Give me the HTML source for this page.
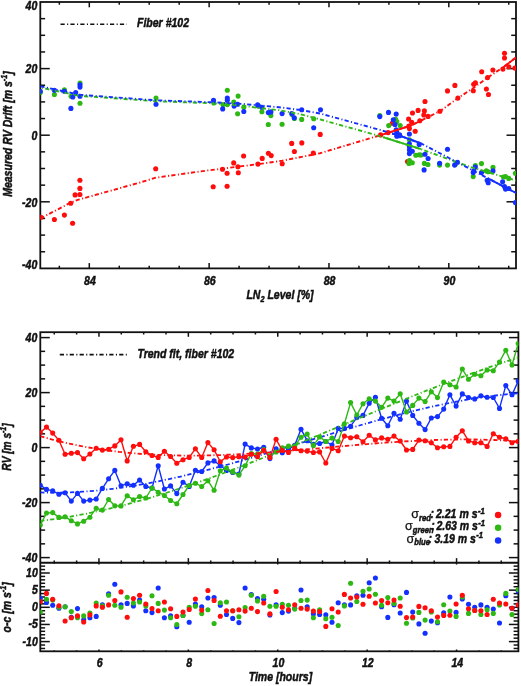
<!DOCTYPE html>
<html><head><meta charset="utf-8"><title>RV drift</title>
<style>
html,body{margin:0;padding:0;background:#fff;}
body{width:521px;height:686px;overflow:hidden;}
svg{display:block;will-change:transform;}
svg text{font-family:"Liberation Sans",sans-serif;font-weight:bold;font-style:italic;fill:#111;stroke:#111;stroke-width:0.5px;stroke-linejoin:round;}
</style></head><body>
<svg width="521" height="686" viewBox="0 0 521 686">
<rect x="0" y="0" width="521" height="686" fill="#fff"/>
<rect x="40.30" y="2.00" width="475.70" height="266.40" fill="none" stroke="#111" stroke-width="1.8"/>
<line x1="40.30" y1="251.75" x2="45.10" y2="251.75" stroke="#111" stroke-width="1.5" />
<line x1="516.00" y1="251.75" x2="511.20" y2="251.75" stroke="#111" stroke-width="1.5" />
<line x1="40.30" y1="235.10" x2="45.10" y2="235.10" stroke="#111" stroke-width="1.5" />
<line x1="516.00" y1="235.10" x2="511.20" y2="235.10" stroke="#111" stroke-width="1.5" />
<line x1="40.30" y1="218.45" x2="45.10" y2="218.45" stroke="#111" stroke-width="1.5" />
<line x1="516.00" y1="218.45" x2="511.20" y2="218.45" stroke="#111" stroke-width="1.5" />
<line x1="40.30" y1="201.80" x2="49.80" y2="201.80" stroke="#111" stroke-width="1.5" />
<line x1="516.00" y1="201.80" x2="506.50" y2="201.80" stroke="#111" stroke-width="1.5" />
<line x1="40.30" y1="185.15" x2="45.10" y2="185.15" stroke="#111" stroke-width="1.5" />
<line x1="516.00" y1="185.15" x2="511.20" y2="185.15" stroke="#111" stroke-width="1.5" />
<line x1="40.30" y1="168.50" x2="45.10" y2="168.50" stroke="#111" stroke-width="1.5" />
<line x1="516.00" y1="168.50" x2="511.20" y2="168.50" stroke="#111" stroke-width="1.5" />
<line x1="40.30" y1="151.85" x2="45.10" y2="151.85" stroke="#111" stroke-width="1.5" />
<line x1="516.00" y1="151.85" x2="511.20" y2="151.85" stroke="#111" stroke-width="1.5" />
<line x1="40.30" y1="135.20" x2="49.80" y2="135.20" stroke="#111" stroke-width="1.5" />
<line x1="516.00" y1="135.20" x2="506.50" y2="135.20" stroke="#111" stroke-width="1.5" />
<line x1="40.30" y1="118.55" x2="45.10" y2="118.55" stroke="#111" stroke-width="1.5" />
<line x1="516.00" y1="118.55" x2="511.20" y2="118.55" stroke="#111" stroke-width="1.5" />
<line x1="40.30" y1="101.90" x2="45.10" y2="101.90" stroke="#111" stroke-width="1.5" />
<line x1="516.00" y1="101.90" x2="511.20" y2="101.90" stroke="#111" stroke-width="1.5" />
<line x1="40.30" y1="85.25" x2="45.10" y2="85.25" stroke="#111" stroke-width="1.5" />
<line x1="516.00" y1="85.25" x2="511.20" y2="85.25" stroke="#111" stroke-width="1.5" />
<line x1="40.30" y1="68.60" x2="49.80" y2="68.60" stroke="#111" stroke-width="1.5" />
<line x1="516.00" y1="68.60" x2="506.50" y2="68.60" stroke="#111" stroke-width="1.5" />
<line x1="40.30" y1="51.95" x2="45.10" y2="51.95" stroke="#111" stroke-width="1.5" />
<line x1="516.00" y1="51.95" x2="511.20" y2="51.95" stroke="#111" stroke-width="1.5" />
<line x1="40.30" y1="35.30" x2="45.10" y2="35.30" stroke="#111" stroke-width="1.5" />
<line x1="516.00" y1="35.30" x2="511.20" y2="35.30" stroke="#111" stroke-width="1.5" />
<line x1="40.30" y1="18.65" x2="45.10" y2="18.65" stroke="#111" stroke-width="1.5" />
<line x1="516.00" y1="18.65" x2="511.20" y2="18.65" stroke="#111" stroke-width="1.5" />
<text transform="translate(37.30,269.10) scale(0.81,1)" text-anchor="end" font-size="13" >-40</text>
<text transform="translate(37.30,206.50) scale(0.81,1)" text-anchor="end" font-size="13" >-20</text>
<text transform="translate(37.30,139.90) scale(0.81,1)" text-anchor="end" font-size="13" >0</text>
<text transform="translate(37.30,73.30) scale(0.81,1)" text-anchor="end" font-size="13" >20</text>
<text transform="translate(37.30,10.00) scale(0.81,1)" text-anchor="end" font-size="13" >40</text>
<line x1="59.34" y1="268.40" x2="59.34" y2="265.70" stroke="#111" stroke-width="1.5" />
<line x1="59.34" y1="2.00" x2="59.34" y2="4.70" stroke="#111" stroke-width="1.5" />
<line x1="89.30" y1="268.40" x2="89.30" y2="263.10" stroke="#111" stroke-width="1.5" />
<line x1="89.30" y1="2.00" x2="89.30" y2="7.30" stroke="#111" stroke-width="1.5" />
<text transform="translate(89.90,284.60) scale(0.81,1)" text-anchor="middle" font-size="13" >84</text>
<line x1="119.26" y1="268.40" x2="119.26" y2="265.70" stroke="#111" stroke-width="1.5" />
<line x1="119.26" y1="2.00" x2="119.26" y2="4.70" stroke="#111" stroke-width="1.5" />
<line x1="149.22" y1="268.40" x2="149.22" y2="265.70" stroke="#111" stroke-width="1.5" />
<line x1="149.22" y1="2.00" x2="149.22" y2="4.70" stroke="#111" stroke-width="1.5" />
<line x1="179.18" y1="268.40" x2="179.18" y2="265.70" stroke="#111" stroke-width="1.5" />
<line x1="179.18" y1="2.00" x2="179.18" y2="4.70" stroke="#111" stroke-width="1.5" />
<line x1="209.14" y1="268.40" x2="209.14" y2="263.10" stroke="#111" stroke-width="1.5" />
<line x1="209.14" y1="2.00" x2="209.14" y2="7.30" stroke="#111" stroke-width="1.5" />
<text transform="translate(209.74,284.60) scale(0.81,1)" text-anchor="middle" font-size="13" >86</text>
<line x1="239.10" y1="268.40" x2="239.10" y2="265.70" stroke="#111" stroke-width="1.5" />
<line x1="239.10" y1="2.00" x2="239.10" y2="4.70" stroke="#111" stroke-width="1.5" />
<line x1="269.06" y1="268.40" x2="269.06" y2="265.70" stroke="#111" stroke-width="1.5" />
<line x1="269.06" y1="2.00" x2="269.06" y2="4.70" stroke="#111" stroke-width="1.5" />
<line x1="299.02" y1="268.40" x2="299.02" y2="265.70" stroke="#111" stroke-width="1.5" />
<line x1="299.02" y1="2.00" x2="299.02" y2="4.70" stroke="#111" stroke-width="1.5" />
<line x1="328.98" y1="268.40" x2="328.98" y2="263.10" stroke="#111" stroke-width="1.5" />
<line x1="328.98" y1="2.00" x2="328.98" y2="7.30" stroke="#111" stroke-width="1.5" />
<text transform="translate(329.58,284.60) scale(0.81,1)" text-anchor="middle" font-size="13" >88</text>
<line x1="358.94" y1="268.40" x2="358.94" y2="265.70" stroke="#111" stroke-width="1.5" />
<line x1="358.94" y1="2.00" x2="358.94" y2="4.70" stroke="#111" stroke-width="1.5" />
<line x1="388.90" y1="268.40" x2="388.90" y2="265.70" stroke="#111" stroke-width="1.5" />
<line x1="388.90" y1="2.00" x2="388.90" y2="4.70" stroke="#111" stroke-width="1.5" />
<line x1="418.86" y1="268.40" x2="418.86" y2="265.70" stroke="#111" stroke-width="1.5" />
<line x1="418.86" y1="2.00" x2="418.86" y2="4.70" stroke="#111" stroke-width="1.5" />
<line x1="448.82" y1="268.40" x2="448.82" y2="263.10" stroke="#111" stroke-width="1.5" />
<line x1="448.82" y1="2.00" x2="448.82" y2="7.30" stroke="#111" stroke-width="1.5" />
<text transform="translate(449.42,284.60) scale(0.81,1)" text-anchor="middle" font-size="13" >90</text>
<line x1="478.78" y1="268.40" x2="478.78" y2="265.70" stroke="#111" stroke-width="1.5" />
<line x1="478.78" y1="2.00" x2="478.78" y2="4.70" stroke="#111" stroke-width="1.5" />
<line x1="508.74" y1="268.40" x2="508.74" y2="265.70" stroke="#111" stroke-width="1.5" />
<line x1="508.74" y1="2.00" x2="508.74" y2="4.70" stroke="#111" stroke-width="1.5" />
<text transform="translate(11.60,134.00) rotate(-90) scale(0.81,1)" text-anchor="middle" font-size="13" >Measured RV Drift [m s<tspan dy="-5" font-size="9">-1</tspan><tspan dy="5">]</tspan></text>
<text transform="translate(280.00,299.00) scale(0.81,1)" text-anchor="middle" font-size="13" >LN<tspan dy="3" font-size="9">2</tspan><tspan dy="-3"> Level [%]</tspan></text>
<rect x="40.30" y="332.20" width="478.10" height="319.10" fill="none" stroke="#111" stroke-width="1.8"/>
<line x1="40.30" y1="562.75" x2="518.40" y2="562.75" stroke="#111" stroke-width="1.8" />
<line x1="40.30" y1="557.60" x2="49.80" y2="557.60" stroke="#111" stroke-width="1.5" />
<line x1="518.40" y1="557.60" x2="508.90" y2="557.60" stroke="#111" stroke-width="1.5" />
<text transform="translate(37.30,562.30) scale(0.81,1)" text-anchor="end" font-size="13" >-40</text>
<line x1="40.30" y1="543.85" x2="45.10" y2="543.85" stroke="#111" stroke-width="1.5" />
<line x1="518.40" y1="543.85" x2="513.60" y2="543.85" stroke="#111" stroke-width="1.5" />
<line x1="40.30" y1="530.10" x2="45.10" y2="530.10" stroke="#111" stroke-width="1.5" />
<line x1="518.40" y1="530.10" x2="513.60" y2="530.10" stroke="#111" stroke-width="1.5" />
<line x1="40.30" y1="516.35" x2="45.10" y2="516.35" stroke="#111" stroke-width="1.5" />
<line x1="518.40" y1="516.35" x2="513.60" y2="516.35" stroke="#111" stroke-width="1.5" />
<line x1="40.30" y1="502.60" x2="49.80" y2="502.60" stroke="#111" stroke-width="1.5" />
<line x1="518.40" y1="502.60" x2="508.90" y2="502.60" stroke="#111" stroke-width="1.5" />
<text transform="translate(37.30,507.30) scale(0.81,1)" text-anchor="end" font-size="13" >-20</text>
<line x1="40.30" y1="488.85" x2="45.10" y2="488.85" stroke="#111" stroke-width="1.5" />
<line x1="518.40" y1="488.85" x2="513.60" y2="488.85" stroke="#111" stroke-width="1.5" />
<line x1="40.30" y1="475.10" x2="45.10" y2="475.10" stroke="#111" stroke-width="1.5" />
<line x1="518.40" y1="475.10" x2="513.60" y2="475.10" stroke="#111" stroke-width="1.5" />
<line x1="40.30" y1="461.35" x2="45.10" y2="461.35" stroke="#111" stroke-width="1.5" />
<line x1="518.40" y1="461.35" x2="513.60" y2="461.35" stroke="#111" stroke-width="1.5" />
<line x1="40.30" y1="447.60" x2="49.80" y2="447.60" stroke="#111" stroke-width="1.5" />
<line x1="518.40" y1="447.60" x2="508.90" y2="447.60" stroke="#111" stroke-width="1.5" />
<text transform="translate(37.30,452.30) scale(0.81,1)" text-anchor="end" font-size="13" >0</text>
<line x1="40.30" y1="433.85" x2="45.10" y2="433.85" stroke="#111" stroke-width="1.5" />
<line x1="518.40" y1="433.85" x2="513.60" y2="433.85" stroke="#111" stroke-width="1.5" />
<line x1="40.30" y1="420.10" x2="45.10" y2="420.10" stroke="#111" stroke-width="1.5" />
<line x1="518.40" y1="420.10" x2="513.60" y2="420.10" stroke="#111" stroke-width="1.5" />
<line x1="40.30" y1="406.35" x2="45.10" y2="406.35" stroke="#111" stroke-width="1.5" />
<line x1="518.40" y1="406.35" x2="513.60" y2="406.35" stroke="#111" stroke-width="1.5" />
<line x1="40.30" y1="392.60" x2="49.80" y2="392.60" stroke="#111" stroke-width="1.5" />
<line x1="518.40" y1="392.60" x2="508.90" y2="392.60" stroke="#111" stroke-width="1.5" />
<text transform="translate(37.30,397.30) scale(0.81,1)" text-anchor="end" font-size="13" >20</text>
<line x1="40.30" y1="378.85" x2="45.10" y2="378.85" stroke="#111" stroke-width="1.5" />
<line x1="518.40" y1="378.85" x2="513.60" y2="378.85" stroke="#111" stroke-width="1.5" />
<line x1="40.30" y1="365.10" x2="45.10" y2="365.10" stroke="#111" stroke-width="1.5" />
<line x1="518.40" y1="365.10" x2="513.60" y2="365.10" stroke="#111" stroke-width="1.5" />
<line x1="40.30" y1="351.35" x2="45.10" y2="351.35" stroke="#111" stroke-width="1.5" />
<line x1="518.40" y1="351.35" x2="513.60" y2="351.35" stroke="#111" stroke-width="1.5" />
<line x1="40.30" y1="337.60" x2="49.80" y2="337.60" stroke="#111" stroke-width="1.5" />
<line x1="518.40" y1="337.60" x2="508.90" y2="337.60" stroke="#111" stroke-width="1.5" />
<text transform="translate(37.30,342.30) scale(0.81,1)" text-anchor="end" font-size="13" >40</text>
<line x1="40.30" y1="648.46" x2="45.10" y2="648.46" stroke="#111" stroke-width="1.5" />
<line x1="518.40" y1="648.46" x2="513.60" y2="648.46" stroke="#111" stroke-width="1.5" />
<line x1="40.30" y1="645.03" x2="45.10" y2="645.03" stroke="#111" stroke-width="1.5" />
<line x1="518.40" y1="645.03" x2="513.60" y2="645.03" stroke="#111" stroke-width="1.5" />
<line x1="40.30" y1="641.60" x2="49.80" y2="641.60" stroke="#111" stroke-width="1.5" />
<line x1="518.40" y1="641.60" x2="508.90" y2="641.60" stroke="#111" stroke-width="1.5" />
<text transform="translate(37.80,645.60) scale(0.81,1)" text-anchor="end" font-size="13" >-10</text>
<line x1="40.30" y1="638.17" x2="45.10" y2="638.17" stroke="#111" stroke-width="1.5" />
<line x1="518.40" y1="638.17" x2="513.60" y2="638.17" stroke="#111" stroke-width="1.5" />
<line x1="40.30" y1="634.74" x2="45.10" y2="634.74" stroke="#111" stroke-width="1.5" />
<line x1="518.40" y1="634.74" x2="513.60" y2="634.74" stroke="#111" stroke-width="1.5" />
<line x1="40.30" y1="631.31" x2="45.10" y2="631.31" stroke="#111" stroke-width="1.5" />
<line x1="518.40" y1="631.31" x2="513.60" y2="631.31" stroke="#111" stroke-width="1.5" />
<line x1="40.30" y1="627.88" x2="45.10" y2="627.88" stroke="#111" stroke-width="1.5" />
<line x1="518.40" y1="627.88" x2="513.60" y2="627.88" stroke="#111" stroke-width="1.5" />
<line x1="40.30" y1="624.45" x2="49.80" y2="624.45" stroke="#111" stroke-width="1.5" />
<line x1="518.40" y1="624.45" x2="508.90" y2="624.45" stroke="#111" stroke-width="1.5" />
<text transform="translate(37.80,628.45) scale(0.81,1)" text-anchor="end" font-size="13" >-5</text>
<line x1="40.30" y1="621.02" x2="45.10" y2="621.02" stroke="#111" stroke-width="1.5" />
<line x1="518.40" y1="621.02" x2="513.60" y2="621.02" stroke="#111" stroke-width="1.5" />
<line x1="40.30" y1="617.59" x2="45.10" y2="617.59" stroke="#111" stroke-width="1.5" />
<line x1="518.40" y1="617.59" x2="513.60" y2="617.59" stroke="#111" stroke-width="1.5" />
<line x1="40.30" y1="614.16" x2="45.10" y2="614.16" stroke="#111" stroke-width="1.5" />
<line x1="518.40" y1="614.16" x2="513.60" y2="614.16" stroke="#111" stroke-width="1.5" />
<line x1="40.30" y1="610.73" x2="45.10" y2="610.73" stroke="#111" stroke-width="1.5" />
<line x1="518.40" y1="610.73" x2="513.60" y2="610.73" stroke="#111" stroke-width="1.5" />
<line x1="40.30" y1="607.30" x2="49.80" y2="607.30" stroke="#111" stroke-width="1.5" />
<line x1="518.40" y1="607.30" x2="508.90" y2="607.30" stroke="#111" stroke-width="1.5" />
<text transform="translate(37.80,611.30) scale(0.81,1)" text-anchor="end" font-size="13" >0</text>
<line x1="40.30" y1="603.87" x2="45.10" y2="603.87" stroke="#111" stroke-width="1.5" />
<line x1="518.40" y1="603.87" x2="513.60" y2="603.87" stroke="#111" stroke-width="1.5" />
<line x1="40.30" y1="600.44" x2="45.10" y2="600.44" stroke="#111" stroke-width="1.5" />
<line x1="518.40" y1="600.44" x2="513.60" y2="600.44" stroke="#111" stroke-width="1.5" />
<line x1="40.30" y1="597.01" x2="45.10" y2="597.01" stroke="#111" stroke-width="1.5" />
<line x1="518.40" y1="597.01" x2="513.60" y2="597.01" stroke="#111" stroke-width="1.5" />
<line x1="40.30" y1="593.58" x2="45.10" y2="593.58" stroke="#111" stroke-width="1.5" />
<line x1="518.40" y1="593.58" x2="513.60" y2="593.58" stroke="#111" stroke-width="1.5" />
<line x1="40.30" y1="590.15" x2="49.80" y2="590.15" stroke="#111" stroke-width="1.5" />
<line x1="518.40" y1="590.15" x2="508.90" y2="590.15" stroke="#111" stroke-width="1.5" />
<text transform="translate(37.80,594.15) scale(0.81,1)" text-anchor="end" font-size="13" >5</text>
<line x1="40.30" y1="586.72" x2="45.10" y2="586.72" stroke="#111" stroke-width="1.5" />
<line x1="518.40" y1="586.72" x2="513.60" y2="586.72" stroke="#111" stroke-width="1.5" />
<line x1="40.30" y1="583.29" x2="45.10" y2="583.29" stroke="#111" stroke-width="1.5" />
<line x1="518.40" y1="583.29" x2="513.60" y2="583.29" stroke="#111" stroke-width="1.5" />
<line x1="40.30" y1="579.86" x2="45.10" y2="579.86" stroke="#111" stroke-width="1.5" />
<line x1="518.40" y1="579.86" x2="513.60" y2="579.86" stroke="#111" stroke-width="1.5" />
<line x1="40.30" y1="576.43" x2="45.10" y2="576.43" stroke="#111" stroke-width="1.5" />
<line x1="518.40" y1="576.43" x2="513.60" y2="576.43" stroke="#111" stroke-width="1.5" />
<line x1="40.30" y1="573.00" x2="49.80" y2="573.00" stroke="#111" stroke-width="1.5" />
<line x1="518.40" y1="573.00" x2="508.90" y2="573.00" stroke="#111" stroke-width="1.5" />
<text transform="translate(37.80,577.00) scale(0.81,1)" text-anchor="end" font-size="13" >10</text>
<line x1="40.30" y1="569.57" x2="45.10" y2="569.57" stroke="#111" stroke-width="1.5" />
<line x1="518.40" y1="569.57" x2="513.60" y2="569.57" stroke="#111" stroke-width="1.5" />
<line x1="40.30" y1="566.14" x2="45.10" y2="566.14" stroke="#111" stroke-width="1.5" />
<line x1="518.40" y1="566.14" x2="513.60" y2="566.14" stroke="#111" stroke-width="1.5" />
<line x1="54.26" y1="332.20" x2="54.26" y2="334.50" stroke="#111" stroke-width="1.5" />
<line x1="54.26" y1="562.75" x2="54.26" y2="560.45" stroke="#111" stroke-width="1.5" />
<line x1="54.26" y1="562.75" x2="54.26" y2="563.65" stroke="#111" stroke-width="1.5" />
<line x1="54.26" y1="651.30" x2="54.26" y2="650.40" stroke="#111" stroke-width="1.5" />
<line x1="76.61" y1="332.20" x2="76.61" y2="334.50" stroke="#111" stroke-width="1.5" />
<line x1="76.61" y1="562.75" x2="76.61" y2="560.45" stroke="#111" stroke-width="1.5" />
<line x1="76.61" y1="562.75" x2="76.61" y2="563.65" stroke="#111" stroke-width="1.5" />
<line x1="76.61" y1="651.30" x2="76.61" y2="650.40" stroke="#111" stroke-width="1.5" />
<line x1="98.96" y1="332.20" x2="98.96" y2="336.80" stroke="#111" stroke-width="1.5" />
<line x1="98.96" y1="562.75" x2="98.96" y2="558.15" stroke="#111" stroke-width="1.5" />
<line x1="98.96" y1="562.75" x2="98.96" y2="564.55" stroke="#111" stroke-width="1.5" />
<line x1="98.96" y1="651.30" x2="98.96" y2="649.50" stroke="#111" stroke-width="1.5" />
<text transform="translate(99.66,666.90) scale(0.81,1)" text-anchor="middle" font-size="13" >6</text>
<line x1="121.31" y1="332.20" x2="121.31" y2="334.50" stroke="#111" stroke-width="1.5" />
<line x1="121.31" y1="562.75" x2="121.31" y2="560.45" stroke="#111" stroke-width="1.5" />
<line x1="121.31" y1="562.75" x2="121.31" y2="563.65" stroke="#111" stroke-width="1.5" />
<line x1="121.31" y1="651.30" x2="121.31" y2="650.40" stroke="#111" stroke-width="1.5" />
<line x1="143.66" y1="332.20" x2="143.66" y2="334.50" stroke="#111" stroke-width="1.5" />
<line x1="143.66" y1="562.75" x2="143.66" y2="560.45" stroke="#111" stroke-width="1.5" />
<line x1="143.66" y1="562.75" x2="143.66" y2="563.65" stroke="#111" stroke-width="1.5" />
<line x1="143.66" y1="651.30" x2="143.66" y2="650.40" stroke="#111" stroke-width="1.5" />
<line x1="166.01" y1="332.20" x2="166.01" y2="334.50" stroke="#111" stroke-width="1.5" />
<line x1="166.01" y1="562.75" x2="166.01" y2="560.45" stroke="#111" stroke-width="1.5" />
<line x1="166.01" y1="562.75" x2="166.01" y2="563.65" stroke="#111" stroke-width="1.5" />
<line x1="166.01" y1="651.30" x2="166.01" y2="650.40" stroke="#111" stroke-width="1.5" />
<line x1="188.36" y1="332.20" x2="188.36" y2="336.80" stroke="#111" stroke-width="1.5" />
<line x1="188.36" y1="562.75" x2="188.36" y2="558.15" stroke="#111" stroke-width="1.5" />
<line x1="188.36" y1="562.75" x2="188.36" y2="564.55" stroke="#111" stroke-width="1.5" />
<line x1="188.36" y1="651.30" x2="188.36" y2="649.50" stroke="#111" stroke-width="1.5" />
<text transform="translate(189.06,666.90) scale(0.81,1)" text-anchor="middle" font-size="13" >8</text>
<line x1="210.71" y1="332.20" x2="210.71" y2="334.50" stroke="#111" stroke-width="1.5" />
<line x1="210.71" y1="562.75" x2="210.71" y2="560.45" stroke="#111" stroke-width="1.5" />
<line x1="210.71" y1="562.75" x2="210.71" y2="563.65" stroke="#111" stroke-width="1.5" />
<line x1="210.71" y1="651.30" x2="210.71" y2="650.40" stroke="#111" stroke-width="1.5" />
<line x1="233.06" y1="332.20" x2="233.06" y2="334.50" stroke="#111" stroke-width="1.5" />
<line x1="233.06" y1="562.75" x2="233.06" y2="560.45" stroke="#111" stroke-width="1.5" />
<line x1="233.06" y1="562.75" x2="233.06" y2="563.65" stroke="#111" stroke-width="1.5" />
<line x1="233.06" y1="651.30" x2="233.06" y2="650.40" stroke="#111" stroke-width="1.5" />
<line x1="255.41" y1="332.20" x2="255.41" y2="334.50" stroke="#111" stroke-width="1.5" />
<line x1="255.41" y1="562.75" x2="255.41" y2="560.45" stroke="#111" stroke-width="1.5" />
<line x1="255.41" y1="562.75" x2="255.41" y2="563.65" stroke="#111" stroke-width="1.5" />
<line x1="255.41" y1="651.30" x2="255.41" y2="650.40" stroke="#111" stroke-width="1.5" />
<line x1="277.76" y1="332.20" x2="277.76" y2="336.80" stroke="#111" stroke-width="1.5" />
<line x1="277.76" y1="562.75" x2="277.76" y2="558.15" stroke="#111" stroke-width="1.5" />
<line x1="277.76" y1="562.75" x2="277.76" y2="564.55" stroke="#111" stroke-width="1.5" />
<line x1="277.76" y1="651.30" x2="277.76" y2="649.50" stroke="#111" stroke-width="1.5" />
<text transform="translate(278.46,666.90) scale(0.81,1)" text-anchor="middle" font-size="13" >10</text>
<line x1="300.11" y1="332.20" x2="300.11" y2="334.50" stroke="#111" stroke-width="1.5" />
<line x1="300.11" y1="562.75" x2="300.11" y2="560.45" stroke="#111" stroke-width="1.5" />
<line x1="300.11" y1="562.75" x2="300.11" y2="563.65" stroke="#111" stroke-width="1.5" />
<line x1="300.11" y1="651.30" x2="300.11" y2="650.40" stroke="#111" stroke-width="1.5" />
<line x1="322.46" y1="332.20" x2="322.46" y2="334.50" stroke="#111" stroke-width="1.5" />
<line x1="322.46" y1="562.75" x2="322.46" y2="560.45" stroke="#111" stroke-width="1.5" />
<line x1="322.46" y1="562.75" x2="322.46" y2="563.65" stroke="#111" stroke-width="1.5" />
<line x1="322.46" y1="651.30" x2="322.46" y2="650.40" stroke="#111" stroke-width="1.5" />
<line x1="344.81" y1="332.20" x2="344.81" y2="334.50" stroke="#111" stroke-width="1.5" />
<line x1="344.81" y1="562.75" x2="344.81" y2="560.45" stroke="#111" stroke-width="1.5" />
<line x1="344.81" y1="562.75" x2="344.81" y2="563.65" stroke="#111" stroke-width="1.5" />
<line x1="344.81" y1="651.30" x2="344.81" y2="650.40" stroke="#111" stroke-width="1.5" />
<line x1="367.16" y1="332.20" x2="367.16" y2="336.80" stroke="#111" stroke-width="1.5" />
<line x1="367.16" y1="562.75" x2="367.16" y2="558.15" stroke="#111" stroke-width="1.5" />
<line x1="367.16" y1="562.75" x2="367.16" y2="564.55" stroke="#111" stroke-width="1.5" />
<line x1="367.16" y1="651.30" x2="367.16" y2="649.50" stroke="#111" stroke-width="1.5" />
<text transform="translate(367.86,666.90) scale(0.81,1)" text-anchor="middle" font-size="13" >12</text>
<line x1="389.51" y1="332.20" x2="389.51" y2="334.50" stroke="#111" stroke-width="1.5" />
<line x1="389.51" y1="562.75" x2="389.51" y2="560.45" stroke="#111" stroke-width="1.5" />
<line x1="389.51" y1="562.75" x2="389.51" y2="563.65" stroke="#111" stroke-width="1.5" />
<line x1="389.51" y1="651.30" x2="389.51" y2="650.40" stroke="#111" stroke-width="1.5" />
<line x1="411.86" y1="332.20" x2="411.86" y2="334.50" stroke="#111" stroke-width="1.5" />
<line x1="411.86" y1="562.75" x2="411.86" y2="560.45" stroke="#111" stroke-width="1.5" />
<line x1="411.86" y1="562.75" x2="411.86" y2="563.65" stroke="#111" stroke-width="1.5" />
<line x1="411.86" y1="651.30" x2="411.86" y2="650.40" stroke="#111" stroke-width="1.5" />
<line x1="434.21" y1="332.20" x2="434.21" y2="334.50" stroke="#111" stroke-width="1.5" />
<line x1="434.21" y1="562.75" x2="434.21" y2="560.45" stroke="#111" stroke-width="1.5" />
<line x1="434.21" y1="562.75" x2="434.21" y2="563.65" stroke="#111" stroke-width="1.5" />
<line x1="434.21" y1="651.30" x2="434.21" y2="650.40" stroke="#111" stroke-width="1.5" />
<line x1="456.56" y1="332.20" x2="456.56" y2="336.80" stroke="#111" stroke-width="1.5" />
<line x1="456.56" y1="562.75" x2="456.56" y2="558.15" stroke="#111" stroke-width="1.5" />
<line x1="456.56" y1="562.75" x2="456.56" y2="564.55" stroke="#111" stroke-width="1.5" />
<line x1="456.56" y1="651.30" x2="456.56" y2="649.50" stroke="#111" stroke-width="1.5" />
<text transform="translate(457.26,666.90) scale(0.81,1)" text-anchor="middle" font-size="13" >14</text>
<line x1="478.91" y1="332.20" x2="478.91" y2="334.50" stroke="#111" stroke-width="1.5" />
<line x1="478.91" y1="562.75" x2="478.91" y2="560.45" stroke="#111" stroke-width="1.5" />
<line x1="478.91" y1="562.75" x2="478.91" y2="563.65" stroke="#111" stroke-width="1.5" />
<line x1="478.91" y1="651.30" x2="478.91" y2="650.40" stroke="#111" stroke-width="1.5" />
<line x1="501.26" y1="332.20" x2="501.26" y2="334.50" stroke="#111" stroke-width="1.5" />
<line x1="501.26" y1="562.75" x2="501.26" y2="560.45" stroke="#111" stroke-width="1.5" />
<line x1="501.26" y1="562.75" x2="501.26" y2="563.65" stroke="#111" stroke-width="1.5" />
<line x1="501.26" y1="651.30" x2="501.26" y2="650.40" stroke="#111" stroke-width="1.5" />
<text transform="translate(11.40,447.00) rotate(-90) scale(0.78,1)" text-anchor="middle" font-size="13" >RV [m s<tspan dy="-5" font-size="9">-1</tspan><tspan dy="5">]</tspan></text>
<text transform="translate(11.40,607.30) rotate(-90) scale(0.81,1)" text-anchor="middle" font-size="13" >o-c [m s<tspan dy="-5" font-size="9">-1</tspan><tspan dy="5">]</tspan></text>
<text transform="translate(280.40,681.00) scale(0.81,1)" text-anchor="middle" font-size="13" >Time [hours]</text>
<defs><clipPath id="ct"><rect x="40.3" y="2.0" width="475.7" height="266.4"/></clipPath><clipPath id="cb"><rect x="40.3" y="332.2" width="478.09999999999997" height="230.55"/></clipPath><clipPath id="cr"><rect x="40.3" y="562.75" width="478.09999999999997" height="88.54999999999995"/></clipPath></defs>
<g clip-path="url(#ct)">
<circle cx="41.0" cy="217.2" r="2.55" fill="#ff0d0d"/>
<circle cx="54.4" cy="219.5" r="2.55" fill="#ff0d0d"/>
<circle cx="64.4" cy="215.1" r="2.55" fill="#ff0d0d"/>
<circle cx="70.7" cy="203.2" r="2.55" fill="#ff0d0d"/>
<circle cx="72.6" cy="223.3" r="2.55" fill="#ff0d0d"/>
<circle cx="75.1" cy="194.9" r="2.55" fill="#ff0d0d"/>
<circle cx="79.9" cy="194.5" r="2.55" fill="#ff0d0d"/>
<circle cx="79.9" cy="188.4" r="2.55" fill="#ff0d0d"/>
<circle cx="79.9" cy="180.2" r="2.55" fill="#ff0d0d"/>
<circle cx="155.7" cy="168.7" r="2.55" fill="#ff0d0d"/>
<circle cx="213.2" cy="186.7" r="2.55" fill="#ff0d0d"/>
<circle cx="227.1" cy="186.2" r="2.55" fill="#ff0d0d"/>
<circle cx="222.5" cy="169.2" r="2.55" fill="#ff0d0d"/>
<circle cx="227.1" cy="173.3" r="2.55" fill="#ff0d0d"/>
<circle cx="233.7" cy="162.9" r="2.55" fill="#ff0d0d"/>
<circle cx="237.9" cy="166.8" r="2.55" fill="#ff0d0d"/>
<circle cx="238.3" cy="172.8" r="2.55" fill="#ff0d0d"/>
<circle cx="243.6" cy="156.0" r="2.55" fill="#ff0d0d"/>
<circle cx="257.9" cy="164.1" r="2.55" fill="#ff0d0d"/>
<circle cx="262.2" cy="158.4" r="2.55" fill="#ff0d0d"/>
<circle cx="268.4" cy="153.3" r="2.55" fill="#ff0d0d"/>
<circle cx="271.2" cy="155.6" r="2.55" fill="#ff0d0d"/>
<circle cx="282.2" cy="163.7" r="2.55" fill="#ff0d0d"/>
<circle cx="291.7" cy="143.4" r="2.55" fill="#ff0d0d"/>
<circle cx="294.4" cy="151.5" r="2.55" fill="#ff0d0d"/>
<circle cx="301.8" cy="142.9" r="2.55" fill="#ff0d0d"/>
<circle cx="313.3" cy="153.1" r="2.55" fill="#ff0d0d"/>
<circle cx="320.2" cy="134.4" r="2.55" fill="#ff0d0d"/>
<circle cx="380.6" cy="134.9" r="2.55" fill="#ff0d0d"/>
<circle cx="388.1" cy="132.6" r="2.55" fill="#ff0d0d"/>
<circle cx="392.2" cy="123.3" r="2.55" fill="#ff0d0d"/>
<circle cx="407.5" cy="161.5" r="2.55" fill="#ff0d0d"/>
<circle cx="425.0" cy="101.5" r="2.55" fill="#ff0d0d"/>
<circle cx="418.1" cy="110.4" r="2.55" fill="#ff0d0d"/>
<circle cx="424.4" cy="110.9" r="2.55" fill="#ff0d0d"/>
<circle cx="412.5" cy="113.0" r="2.55" fill="#ff0d0d"/>
<circle cx="423.8" cy="115.0" r="2.55" fill="#ff0d0d"/>
<circle cx="428.1" cy="116.4" r="2.55" fill="#ff0d0d"/>
<circle cx="408.6" cy="119.0" r="2.55" fill="#ff0d0d"/>
<circle cx="419.8" cy="120.7" r="2.55" fill="#ff0d0d"/>
<circle cx="411.7" cy="122.2" r="2.55" fill="#ff0d0d"/>
<circle cx="408.9" cy="126.0" r="2.55" fill="#ff0d0d"/>
<circle cx="409.4" cy="128.5" r="2.55" fill="#ff0d0d"/>
<circle cx="415.2" cy="131.2" r="2.55" fill="#ff0d0d"/>
<circle cx="439.9" cy="111.2" r="2.55" fill="#ff0d0d"/>
<circle cx="447.5" cy="90.9" r="2.55" fill="#ff0d0d"/>
<circle cx="454.9" cy="85.4" r="2.55" fill="#ff0d0d"/>
<circle cx="457.9" cy="98.1" r="2.55" fill="#ff0d0d"/>
<circle cx="473.3" cy="90.7" r="2.55" fill="#ff0d0d"/>
<circle cx="473.7" cy="84.3" r="2.55" fill="#ff0d0d"/>
<circle cx="475.4" cy="82.9" r="2.55" fill="#ff0d0d"/>
<circle cx="481.7" cy="71.7" r="2.55" fill="#ff0d0d"/>
<circle cx="487.6" cy="77.6" r="2.55" fill="#ff0d0d"/>
<circle cx="486.4" cy="89.0" r="2.55" fill="#ff0d0d"/>
<circle cx="488.5" cy="94.5" r="2.55" fill="#ff0d0d"/>
<circle cx="492.9" cy="70.0" r="2.55" fill="#ff0d0d"/>
<circle cx="502.9" cy="69.1" r="2.55" fill="#ff0d0d"/>
<circle cx="504.5" cy="53.3" r="2.55" fill="#ff0d0d"/>
<circle cx="504.5" cy="58.0" r="2.55" fill="#ff0d0d"/>
<circle cx="508.8" cy="66.8" r="2.55" fill="#ff0d0d"/>
<circle cx="514.9" cy="68.1" r="2.55" fill="#ff0d0d"/>
<circle cx="40.3" cy="92.6" r="2.55" fill="#2db814"/>
<circle cx="54.4" cy="94.5" r="2.55" fill="#2db814"/>
<circle cx="64.4" cy="89.7" r="2.55" fill="#2db814"/>
<circle cx="71.1" cy="96.3" r="2.55" fill="#2db814"/>
<circle cx="80.0" cy="103.2" r="2.55" fill="#2db814"/>
<circle cx="80.0" cy="83.0" r="2.55" fill="#2db814"/>
<circle cx="156.0" cy="98.0" r="2.55" fill="#2db814"/>
<circle cx="213.8" cy="103.0" r="2.55" fill="#2db814"/>
<circle cx="227.3" cy="90.3" r="2.55" fill="#2db814"/>
<circle cx="227.3" cy="104.6" r="2.55" fill="#2db814"/>
<circle cx="223.0" cy="104.6" r="2.55" fill="#2db814"/>
<circle cx="233.8" cy="102.0" r="2.55" fill="#2db814"/>
<circle cx="238.1" cy="96.1" r="2.55" fill="#2db814"/>
<circle cx="237.6" cy="113.8" r="2.55" fill="#2db814"/>
<circle cx="243.8" cy="107.3" r="2.55" fill="#2db814"/>
<circle cx="258.3" cy="106.1" r="2.55" fill="#2db814"/>
<circle cx="261.9" cy="111.8" r="2.55" fill="#2db814"/>
<circle cx="270.9" cy="115.6" r="2.55" fill="#2db814"/>
<circle cx="268.3" cy="124.5" r="2.55" fill="#2db814"/>
<circle cx="282.1" cy="124.2" r="2.55" fill="#2db814"/>
<circle cx="292.2" cy="114.6" r="2.55" fill="#2db814"/>
<circle cx="294.4" cy="118.5" r="2.55" fill="#2db814"/>
<circle cx="301.7" cy="119.4" r="2.55" fill="#2db814"/>
<circle cx="313.7" cy="118.8" r="2.55" fill="#2db814"/>
<circle cx="379.8" cy="115.5" r="2.55" fill="#2db814"/>
<circle cx="395.6" cy="119.3" r="2.55" fill="#2db814"/>
<circle cx="396.8" cy="121.6" r="2.55" fill="#2db814"/>
<circle cx="388.7" cy="125.6" r="2.55" fill="#2db814"/>
<circle cx="400.2" cy="125.6" r="2.55" fill="#2db814"/>
<circle cx="409.4" cy="139.8" r="2.55" fill="#2db814"/>
<circle cx="415.8" cy="155.3" r="2.55" fill="#2db814"/>
<circle cx="419.2" cy="154.7" r="2.55" fill="#2db814"/>
<circle cx="409.4" cy="160.5" r="2.55" fill="#2db814"/>
<circle cx="412.3" cy="162.8" r="2.55" fill="#2db814"/>
<circle cx="408.9" cy="163.4" r="2.55" fill="#2db814"/>
<circle cx="424.4" cy="163.4" r="2.55" fill="#2db814"/>
<circle cx="427.9" cy="164.5" r="2.55" fill="#2db814"/>
<circle cx="421.0" cy="155.0" r="2.55" fill="#2db814"/>
<circle cx="439.6" cy="165.1" r="2.55" fill="#2db814"/>
<circle cx="447.5" cy="165.1" r="2.55" fill="#2db814"/>
<circle cx="455.5" cy="164.2" r="2.55" fill="#2db814"/>
<circle cx="475.3" cy="165.5" r="2.55" fill="#2db814"/>
<circle cx="481.5" cy="163.6" r="2.55" fill="#2db814"/>
<circle cx="473.2" cy="176.6" r="2.55" fill="#2db814"/>
<circle cx="486.3" cy="170.9" r="2.55" fill="#2db814"/>
<circle cx="488.2" cy="171.8" r="2.55" fill="#2db814"/>
<circle cx="493.0" cy="167.4" r="2.55" fill="#2db814"/>
<circle cx="503.5" cy="177.0" r="2.55" fill="#2db814"/>
<circle cx="505.5" cy="176.6" r="2.55" fill="#2db814"/>
<circle cx="508.7" cy="178.4" r="2.55" fill="#2db814"/>
<circle cx="515.4" cy="173.2" r="2.55" fill="#2db814"/>
<circle cx="40.3" cy="91.2" r="2.55" fill="#1430ff"/>
<circle cx="54.4" cy="90.2" r="2.55" fill="#1430ff"/>
<circle cx="64.4" cy="91.3" r="2.55" fill="#1430ff"/>
<circle cx="72.8" cy="96.9" r="2.55" fill="#1430ff"/>
<circle cx="75.7" cy="92.6" r="2.55" fill="#1430ff"/>
<circle cx="70.9" cy="108.4" r="2.55" fill="#1430ff"/>
<circle cx="80.0" cy="96.3" r="2.55" fill="#1430ff"/>
<circle cx="80.0" cy="84.8" r="2.55" fill="#1430ff"/>
<circle cx="80.0" cy="87.1" r="2.55" fill="#1430ff"/>
<circle cx="156.0" cy="104.2" r="2.55" fill="#1430ff"/>
<circle cx="213.5" cy="100.3" r="2.55" fill="#1430ff"/>
<circle cx="227.3" cy="98.1" r="2.55" fill="#1430ff"/>
<circle cx="227.3" cy="100.3" r="2.55" fill="#1430ff"/>
<circle cx="222.7" cy="108.9" r="2.55" fill="#1430ff"/>
<circle cx="234.1" cy="106.1" r="2.55" fill="#1430ff"/>
<circle cx="237.6" cy="104.3" r="2.55" fill="#1430ff"/>
<circle cx="243.8" cy="111.5" r="2.55" fill="#1430ff"/>
<circle cx="257.6" cy="104.9" r="2.55" fill="#1430ff"/>
<circle cx="261.9" cy="107.3" r="2.55" fill="#1430ff"/>
<circle cx="268.3" cy="112.6" r="2.55" fill="#1430ff"/>
<circle cx="270.9" cy="111.9" r="2.55" fill="#1430ff"/>
<circle cx="282.1" cy="113.6" r="2.55" fill="#1430ff"/>
<circle cx="291.7" cy="113.6" r="2.55" fill="#1430ff"/>
<circle cx="294.2" cy="117.8" r="2.55" fill="#1430ff"/>
<circle cx="301.7" cy="109.8" r="2.55" fill="#1430ff"/>
<circle cx="313.7" cy="127.8" r="2.55" fill="#1430ff"/>
<circle cx="320.5" cy="109.8" r="2.55" fill="#1430ff"/>
<circle cx="388.5" cy="112.4" r="2.55" fill="#1430ff"/>
<circle cx="396.2" cy="114.1" r="2.55" fill="#1430ff"/>
<circle cx="379.8" cy="116.6" r="2.55" fill="#1430ff"/>
<circle cx="393.3" cy="119.7" r="2.55" fill="#1430ff"/>
<circle cx="395.0" cy="124.5" r="2.55" fill="#1430ff"/>
<circle cx="396.2" cy="129.7" r="2.55" fill="#1430ff"/>
<circle cx="396.8" cy="132.5" r="2.55" fill="#1430ff"/>
<circle cx="399.6" cy="134.9" r="2.55" fill="#1430ff"/>
<circle cx="409.4" cy="134.0" r="2.55" fill="#1430ff"/>
<circle cx="396.8" cy="136.3" r="2.55" fill="#1430ff"/>
<circle cx="399.6" cy="135.7" r="2.55" fill="#1430ff"/>
<circle cx="409.4" cy="143.8" r="2.55" fill="#1430ff"/>
<circle cx="409.4" cy="146.7" r="2.55" fill="#1430ff"/>
<circle cx="409.4" cy="150.1" r="2.55" fill="#1430ff"/>
<circle cx="409.4" cy="153.6" r="2.55" fill="#1430ff"/>
<circle cx="412.3" cy="151.3" r="2.55" fill="#1430ff"/>
<circle cx="419.2" cy="144.4" r="2.55" fill="#1430ff"/>
<circle cx="425.0" cy="154.2" r="2.55" fill="#1430ff"/>
<circle cx="428.1" cy="158.5" r="2.55" fill="#1430ff"/>
<circle cx="424.1" cy="169.9" r="2.55" fill="#1430ff"/>
<circle cx="447.5" cy="149.2" r="2.55" fill="#1430ff"/>
<circle cx="439.6" cy="163.2" r="2.55" fill="#1430ff"/>
<circle cx="454.6" cy="165.1" r="2.55" fill="#1430ff"/>
<circle cx="457.5" cy="162.2" r="2.55" fill="#1430ff"/>
<circle cx="475.3" cy="167.0" r="2.55" fill="#1430ff"/>
<circle cx="473.8" cy="170.9" r="2.55" fill="#1430ff"/>
<circle cx="473.2" cy="172.6" r="2.55" fill="#1430ff"/>
<circle cx="481.5" cy="172.6" r="2.55" fill="#1430ff"/>
<circle cx="493.0" cy="170.9" r="2.55" fill="#1430ff"/>
<circle cx="487.2" cy="180.3" r="2.55" fill="#1430ff"/>
<circle cx="488.2" cy="182.8" r="2.55" fill="#1430ff"/>
<circle cx="502.6" cy="181.8" r="2.55" fill="#1430ff"/>
<circle cx="504.5" cy="186.6" r="2.55" fill="#1430ff"/>
<circle cx="505.5" cy="189.1" r="2.55" fill="#1430ff"/>
<circle cx="508.7" cy="188.5" r="2.55" fill="#1430ff"/>
<circle cx="515.4" cy="202.6" r="2.55" fill="#1430ff"/>
<polyline points="40.4,218.5 70.7,202.6 78.4,199.7 107.2,191.7 140.0,182.5 155.7,177.7 199.9,171.5 260.0,163.9 282.2,160.7 313.3,154.6 320.2,153.2 380.0,135.3 411.0,125.5 440.0,111.2 457.9,98.1 473.3,88.0 487.6,77.6 502.9,67.5 516.0,57.5" fill="none" stroke="#ff0d0d" stroke-width="1.9" stroke-dasharray="4.2 2.4 1.1 2.2" stroke-dashoffset="0" stroke-linejoin="round"/>
<polyline points="40.4,87.6 80.0,95.9 156.0,101.2 213.0,103.3 243.0,105.6 260.0,108.2 279.2,110.2 298.4,113.8 313.8,117.7 380.0,136.1 421.0,149.2 469.0,166.5 516.0,180.6" fill="none" stroke="#2db814" stroke-width="1.9" stroke-dasharray="4.2 2.4 1.1 2.2" stroke-dashoffset="5" stroke-linejoin="round"/>
<polyline points="40.4,86.3 80.0,94.8 156.0,100.3 213.0,102.3 243.0,104.0 260.0,105.4 283.0,107.7 301.7,110.2 320.5,113.6 380.0,129.9 399.6,135.7 421.0,143.4 469.0,168.4 516.0,193.0" fill="none" stroke="#1430ff" stroke-width="1.9" stroke-dasharray="4.2 2.4 1.1 2.2" stroke-dashoffset="0" stroke-linejoin="round"/>
<polyline points="380.0,135.3 411.0,125.5 423.0,119.6" fill="none" stroke="#ff0d0d" stroke-width="1.9" stroke-linejoin="round"/>
<polyline points="383.0,137.1 421.0,149.2" fill="none" stroke="#2db814" stroke-width="1.9" stroke-linejoin="round"/>
<polyline points="392.0,133.5 399.6,135.7 420.0,143.0" fill="none" stroke="#1430ff" stroke-width="1.9" stroke-linejoin="round"/>
<polyline points="503.0,67.4 516.0,57.5" fill="none" stroke="#ff0d0d" stroke-width="1.9" stroke-linejoin="round"/>
<polyline points="488.0,178.3 516.0,193.0" fill="none" stroke="#1430ff" stroke-width="1.9" stroke-linejoin="round"/>
</g>
<line x1="60.50" y1="24.30" x2="126.80" y2="24.30" stroke="#111" stroke-width="1.6" stroke-dasharray="4.2 2.4 1.1 2.2"/>
<text transform="translate(137.00,27.40) scale(0.81,1)" text-anchor="start" font-size="13" >Fiber #102</text>
<g clip-path="url(#cb)">
<polyline points="40.3,485.2 46.5,489.4 52.7,490.9 58.9,494.2 65.1,492.8 71.3,501.1 77.5,493.4 83.7,501.1 89.9,500.1 96.2,499.0 102.4,488.4 108.6,478.8 114.8,470.4 121.0,485.7 127.2,483.8 133.4,485.2 139.6,480.1 145.8,486.5 152.0,488.0 158.2,465.7 164.4,489.0 170.6,485.9 176.8,493.6 183.0,482.2 189.2,486.5 195.4,470.2 201.7,471.5 207.9,462.9 214.1,460.9 220.3,465.5 226.5,470.5 232.7,472.5 238.9,474.0 245.1,444.1 251.3,447.9 257.5,449.0 263.7,447.3 269.9,458.6 276.1,448.8 282.3,452.8 288.5,449.1 294.7,445.3 301.0,429.2 307.2,440.7 313.4,444.3 319.6,443.5 325.8,441.5 332.0,445.0 338.2,428.4 344.4,428.4 350.6,426.2 356.8,417.6 363.0,415.4 369.2,403.3 375.4,397.3 381.6,418.3 387.8,425.8 394.0,413.3 400.2,419.2 406.5,401.1 412.7,415.4 418.9,423.2 425.1,429.6 431.3,418.0 437.5,416.6 443.7,409.1 449.9,394.8 456.1,406.1 462.3,393.9 468.5,397.5 474.7,398.9 480.9,395.7 487.1,397.2 493.3,397.5 499.5,408.4 505.8,385.6 512.0,394.8 518.2,381.1" fill="none" stroke="#1430ff" stroke-width="1.4" stroke-linejoin="round"/>
<circle cx="40.3" cy="485.2" r="2.55" fill="#1430ff"/>
<circle cx="46.5" cy="489.4" r="2.55" fill="#1430ff"/>
<circle cx="52.7" cy="490.9" r="2.55" fill="#1430ff"/>
<circle cx="58.9" cy="494.2" r="2.55" fill="#1430ff"/>
<circle cx="65.1" cy="492.8" r="2.55" fill="#1430ff"/>
<circle cx="71.3" cy="501.1" r="2.55" fill="#1430ff"/>
<circle cx="77.5" cy="493.4" r="2.55" fill="#1430ff"/>
<circle cx="83.7" cy="501.1" r="2.55" fill="#1430ff"/>
<circle cx="89.9" cy="500.1" r="2.55" fill="#1430ff"/>
<circle cx="96.2" cy="499.0" r="2.55" fill="#1430ff"/>
<circle cx="102.4" cy="488.4" r="2.55" fill="#1430ff"/>
<circle cx="108.6" cy="478.8" r="2.55" fill="#1430ff"/>
<circle cx="114.8" cy="470.4" r="2.55" fill="#1430ff"/>
<circle cx="121.0" cy="485.7" r="2.55" fill="#1430ff"/>
<circle cx="127.2" cy="483.8" r="2.55" fill="#1430ff"/>
<circle cx="133.4" cy="485.2" r="2.55" fill="#1430ff"/>
<circle cx="139.6" cy="480.1" r="2.55" fill="#1430ff"/>
<circle cx="145.8" cy="486.5" r="2.55" fill="#1430ff"/>
<circle cx="152.0" cy="488.0" r="2.55" fill="#1430ff"/>
<circle cx="158.2" cy="465.7" r="2.55" fill="#1430ff"/>
<circle cx="164.4" cy="489.0" r="2.55" fill="#1430ff"/>
<circle cx="170.6" cy="485.9" r="2.55" fill="#1430ff"/>
<circle cx="176.8" cy="493.6" r="2.55" fill="#1430ff"/>
<circle cx="183.0" cy="482.2" r="2.55" fill="#1430ff"/>
<circle cx="189.2" cy="486.5" r="2.55" fill="#1430ff"/>
<circle cx="195.4" cy="470.2" r="2.55" fill="#1430ff"/>
<circle cx="201.7" cy="471.5" r="2.55" fill="#1430ff"/>
<circle cx="207.9" cy="462.9" r="2.55" fill="#1430ff"/>
<circle cx="214.1" cy="460.9" r="2.55" fill="#1430ff"/>
<circle cx="220.3" cy="465.5" r="2.55" fill="#1430ff"/>
<circle cx="226.5" cy="470.5" r="2.55" fill="#1430ff"/>
<circle cx="232.7" cy="472.5" r="2.55" fill="#1430ff"/>
<circle cx="238.9" cy="474.0" r="2.55" fill="#1430ff"/>
<circle cx="245.1" cy="444.1" r="2.55" fill="#1430ff"/>
<circle cx="251.3" cy="447.9" r="2.55" fill="#1430ff"/>
<circle cx="257.5" cy="449.0" r="2.55" fill="#1430ff"/>
<circle cx="263.7" cy="447.3" r="2.55" fill="#1430ff"/>
<circle cx="269.9" cy="458.6" r="2.55" fill="#1430ff"/>
<circle cx="276.1" cy="448.8" r="2.55" fill="#1430ff"/>
<circle cx="282.3" cy="452.8" r="2.55" fill="#1430ff"/>
<circle cx="288.5" cy="449.1" r="2.55" fill="#1430ff"/>
<circle cx="294.7" cy="445.3" r="2.55" fill="#1430ff"/>
<circle cx="301.0" cy="429.2" r="2.55" fill="#1430ff"/>
<circle cx="307.2" cy="440.7" r="2.55" fill="#1430ff"/>
<circle cx="313.4" cy="444.3" r="2.55" fill="#1430ff"/>
<circle cx="319.6" cy="443.5" r="2.55" fill="#1430ff"/>
<circle cx="325.8" cy="441.5" r="2.55" fill="#1430ff"/>
<circle cx="332.0" cy="445.0" r="2.55" fill="#1430ff"/>
<circle cx="338.2" cy="428.4" r="2.55" fill="#1430ff"/>
<circle cx="344.4" cy="428.4" r="2.55" fill="#1430ff"/>
<circle cx="350.6" cy="426.2" r="2.55" fill="#1430ff"/>
<circle cx="356.8" cy="417.6" r="2.55" fill="#1430ff"/>
<circle cx="363.0" cy="415.4" r="2.55" fill="#1430ff"/>
<circle cx="369.2" cy="403.3" r="2.55" fill="#1430ff"/>
<circle cx="375.4" cy="397.3" r="2.55" fill="#1430ff"/>
<circle cx="381.6" cy="418.3" r="2.55" fill="#1430ff"/>
<circle cx="387.8" cy="425.8" r="2.55" fill="#1430ff"/>
<circle cx="394.0" cy="413.3" r="2.55" fill="#1430ff"/>
<circle cx="400.2" cy="419.2" r="2.55" fill="#1430ff"/>
<circle cx="406.5" cy="401.1" r="2.55" fill="#1430ff"/>
<circle cx="412.7" cy="415.4" r="2.55" fill="#1430ff"/>
<circle cx="418.9" cy="423.2" r="2.55" fill="#1430ff"/>
<circle cx="425.1" cy="429.6" r="2.55" fill="#1430ff"/>
<circle cx="431.3" cy="418.0" r="2.55" fill="#1430ff"/>
<circle cx="437.5" cy="416.6" r="2.55" fill="#1430ff"/>
<circle cx="443.7" cy="409.1" r="2.55" fill="#1430ff"/>
<circle cx="449.9" cy="394.8" r="2.55" fill="#1430ff"/>
<circle cx="456.1" cy="406.1" r="2.55" fill="#1430ff"/>
<circle cx="462.3" cy="393.9" r="2.55" fill="#1430ff"/>
<circle cx="468.5" cy="397.5" r="2.55" fill="#1430ff"/>
<circle cx="474.7" cy="398.9" r="2.55" fill="#1430ff"/>
<circle cx="480.9" cy="395.7" r="2.55" fill="#1430ff"/>
<circle cx="487.1" cy="397.2" r="2.55" fill="#1430ff"/>
<circle cx="493.3" cy="397.5" r="2.55" fill="#1430ff"/>
<circle cx="499.5" cy="408.4" r="2.55" fill="#1430ff"/>
<circle cx="505.8" cy="385.6" r="2.55" fill="#1430ff"/>
<circle cx="512.0" cy="394.8" r="2.55" fill="#1430ff"/>
<circle cx="518.2" cy="381.1" r="2.55" fill="#1430ff"/>
<polyline points="40.3,492.4 46.4,492.6 52.4,492.7 58.5,492.6 64.5,492.5 70.6,492.4 76.6,492.1 82.7,491.7 88.7,491.3 94.8,490.8 100.8,490.2 106.9,489.5 112.9,488.8 119.0,488.0 125.0,487.1 131.1,486.2 137.1,485.2 143.2,484.2 149.2,483.1 155.3,481.9 161.3,480.7 167.4,479.4 173.4,478.1 179.5,476.8 185.5,475.4 191.6,473.9 197.6,472.4 203.7,470.9 209.8,469.3 215.8,467.7 221.9,466.1 227.9,464.5 234.0,462.8 240.0,461.1 246.1,459.3 252.1,457.6 258.2,455.8 264.2,454.0 270.3,452.2 276.3,450.4 282.4,448.6 288.4,446.8 294.5,444.9 300.5,443.1 306.6,441.3 312.6,439.4 318.7,437.6 324.7,435.8 330.8,434.0 336.8,432.1 342.9,430.3 348.9,428.6 355.0,426.8 361.1,425.0 367.1,423.3 373.2,421.6 379.2,419.9 385.3,418.3 391.3,416.7 397.4,415.1 403.4,413.5 409.5,412.0 415.5,410.5 421.6,409.1 427.6,407.7 433.7,406.3 439.7,405.0 445.8,403.7 451.8,402.5 457.9,401.4 463.9,400.3 470.0,399.2 476.0,398.2 482.1,397.3 488.1,396.5 494.2,395.7 500.2,395.0 506.3,394.3 512.3,393.7 518.4,393.2" fill="none" stroke="#1430ff" stroke-width="1.8" stroke-dasharray="4.2 2.4 1.1 2.2" stroke-dashoffset="0" stroke-linejoin="round"/>
<polyline points="40.3,525.1 46.5,513.0 52.7,512.6 58.9,517.4 65.1,516.8 71.3,520.7 77.5,523.9 83.7,521.2 89.9,517.2 96.2,508.2 102.4,510.1 108.6,499.5 114.8,505.7 121.0,505.9 127.2,495.7 133.4,499.7 139.6,496.6 145.8,498.0 152.0,488.0 158.2,492.2 164.4,495.5 170.6,500.5 176.8,503.7 183.0,494.5 189.2,485.5 195.4,483.2 201.7,486.5 207.9,480.7 214.1,490.3 220.3,470.7 226.5,468.1 232.7,472.0 238.9,475.1 245.1,465.7 251.3,453.6 257.5,454.0 263.7,449.6 269.9,455.9 276.1,452.0 282.3,447.7 288.5,446.1 294.7,446.0 301.0,437.2 307.2,434.1 313.4,445.6 319.6,436.9 325.8,441.5 332.0,438.1 338.2,441.5 344.4,423.8 350.6,402.6 356.8,415.0 363.0,403.7 369.2,398.7 375.4,401.1 381.6,407.3 387.8,398.1 394.0,401.1 400.2,393.8 406.5,412.0 412.7,405.4 418.9,398.1 425.1,401.6 431.3,391.8 437.5,397.6 443.7,382.0 449.9,384.7 456.1,387.0 462.3,369.0 468.5,379.3 474.7,374.3 480.9,375.7 487.1,370.0 493.3,370.7 499.5,362.0 505.8,350.2 512.0,365.0 518.2,343.6" fill="none" stroke="#2db814" stroke-width="1.4" stroke-linejoin="round"/>
<circle cx="40.3" cy="525.1" r="2.55" fill="#2db814"/>
<circle cx="46.5" cy="513.0" r="2.55" fill="#2db814"/>
<circle cx="52.7" cy="512.6" r="2.55" fill="#2db814"/>
<circle cx="58.9" cy="517.4" r="2.55" fill="#2db814"/>
<circle cx="65.1" cy="516.8" r="2.55" fill="#2db814"/>
<circle cx="71.3" cy="520.7" r="2.55" fill="#2db814"/>
<circle cx="77.5" cy="523.9" r="2.55" fill="#2db814"/>
<circle cx="83.7" cy="521.2" r="2.55" fill="#2db814"/>
<circle cx="89.9" cy="517.2" r="2.55" fill="#2db814"/>
<circle cx="96.2" cy="508.2" r="2.55" fill="#2db814"/>
<circle cx="102.4" cy="510.1" r="2.55" fill="#2db814"/>
<circle cx="108.6" cy="499.5" r="2.55" fill="#2db814"/>
<circle cx="114.8" cy="505.7" r="2.55" fill="#2db814"/>
<circle cx="121.0" cy="505.9" r="2.55" fill="#2db814"/>
<circle cx="127.2" cy="495.7" r="2.55" fill="#2db814"/>
<circle cx="133.4" cy="499.7" r="2.55" fill="#2db814"/>
<circle cx="139.6" cy="496.6" r="2.55" fill="#2db814"/>
<circle cx="145.8" cy="498.0" r="2.55" fill="#2db814"/>
<circle cx="152.0" cy="488.0" r="2.55" fill="#2db814"/>
<circle cx="158.2" cy="492.2" r="2.55" fill="#2db814"/>
<circle cx="164.4" cy="495.5" r="2.55" fill="#2db814"/>
<circle cx="170.6" cy="500.5" r="2.55" fill="#2db814"/>
<circle cx="176.8" cy="503.7" r="2.55" fill="#2db814"/>
<circle cx="183.0" cy="494.5" r="2.55" fill="#2db814"/>
<circle cx="189.2" cy="485.5" r="2.55" fill="#2db814"/>
<circle cx="195.4" cy="483.2" r="2.55" fill="#2db814"/>
<circle cx="201.7" cy="486.5" r="2.55" fill="#2db814"/>
<circle cx="207.9" cy="480.7" r="2.55" fill="#2db814"/>
<circle cx="214.1" cy="490.3" r="2.55" fill="#2db814"/>
<circle cx="220.3" cy="470.7" r="2.55" fill="#2db814"/>
<circle cx="226.5" cy="468.1" r="2.55" fill="#2db814"/>
<circle cx="232.7" cy="472.0" r="2.55" fill="#2db814"/>
<circle cx="238.9" cy="475.1" r="2.55" fill="#2db814"/>
<circle cx="245.1" cy="465.7" r="2.55" fill="#2db814"/>
<circle cx="251.3" cy="453.6" r="2.55" fill="#2db814"/>
<circle cx="257.5" cy="454.0" r="2.55" fill="#2db814"/>
<circle cx="263.7" cy="449.6" r="2.55" fill="#2db814"/>
<circle cx="269.9" cy="455.9" r="2.55" fill="#2db814"/>
<circle cx="276.1" cy="452.0" r="2.55" fill="#2db814"/>
<circle cx="282.3" cy="447.7" r="2.55" fill="#2db814"/>
<circle cx="288.5" cy="446.1" r="2.55" fill="#2db814"/>
<circle cx="294.7" cy="446.0" r="2.55" fill="#2db814"/>
<circle cx="301.0" cy="437.2" r="2.55" fill="#2db814"/>
<circle cx="307.2" cy="434.1" r="2.55" fill="#2db814"/>
<circle cx="313.4" cy="445.6" r="2.55" fill="#2db814"/>
<circle cx="319.6" cy="436.9" r="2.55" fill="#2db814"/>
<circle cx="325.8" cy="441.5" r="2.55" fill="#2db814"/>
<circle cx="332.0" cy="438.1" r="2.55" fill="#2db814"/>
<circle cx="338.2" cy="441.5" r="2.55" fill="#2db814"/>
<circle cx="344.4" cy="423.8" r="2.55" fill="#2db814"/>
<circle cx="350.6" cy="402.6" r="2.55" fill="#2db814"/>
<circle cx="356.8" cy="415.0" r="2.55" fill="#2db814"/>
<circle cx="363.0" cy="403.7" r="2.55" fill="#2db814"/>
<circle cx="369.2" cy="398.7" r="2.55" fill="#2db814"/>
<circle cx="375.4" cy="401.1" r="2.55" fill="#2db814"/>
<circle cx="381.6" cy="407.3" r="2.55" fill="#2db814"/>
<circle cx="387.8" cy="398.1" r="2.55" fill="#2db814"/>
<circle cx="394.0" cy="401.1" r="2.55" fill="#2db814"/>
<circle cx="400.2" cy="393.8" r="2.55" fill="#2db814"/>
<circle cx="406.5" cy="412.0" r="2.55" fill="#2db814"/>
<circle cx="412.7" cy="405.4" r="2.55" fill="#2db814"/>
<circle cx="418.9" cy="398.1" r="2.55" fill="#2db814"/>
<circle cx="425.1" cy="401.6" r="2.55" fill="#2db814"/>
<circle cx="431.3" cy="391.8" r="2.55" fill="#2db814"/>
<circle cx="437.5" cy="397.6" r="2.55" fill="#2db814"/>
<circle cx="443.7" cy="382.0" r="2.55" fill="#2db814"/>
<circle cx="449.9" cy="384.7" r="2.55" fill="#2db814"/>
<circle cx="456.1" cy="387.0" r="2.55" fill="#2db814"/>
<circle cx="462.3" cy="369.0" r="2.55" fill="#2db814"/>
<circle cx="468.5" cy="379.3" r="2.55" fill="#2db814"/>
<circle cx="474.7" cy="374.3" r="2.55" fill="#2db814"/>
<circle cx="480.9" cy="375.7" r="2.55" fill="#2db814"/>
<circle cx="487.1" cy="370.0" r="2.55" fill="#2db814"/>
<circle cx="493.3" cy="370.7" r="2.55" fill="#2db814"/>
<circle cx="499.5" cy="362.0" r="2.55" fill="#2db814"/>
<circle cx="505.8" cy="350.2" r="2.55" fill="#2db814"/>
<circle cx="512.0" cy="365.0" r="2.55" fill="#2db814"/>
<circle cx="518.2" cy="343.6" r="2.55" fill="#2db814"/>
<polyline points="40.3,520.8 46.4,520.1 52.4,519.3 58.5,518.5 64.5,517.6 70.6,516.6 76.6,515.5 82.7,514.4 88.7,513.2 94.8,511.9 100.8,510.6 106.9,509.2 112.9,507.8 119.0,506.3 125.0,504.8 131.1,503.2 137.1,501.5 143.2,499.8 149.2,498.1 155.3,496.3 161.3,494.4 167.4,492.5 173.4,490.6 179.5,488.6 185.5,486.6 191.6,484.5 197.6,482.5 203.7,480.3 209.8,478.2 215.8,476.0 221.9,473.8 227.9,471.5 234.0,469.2 240.0,466.9 246.1,464.6 252.1,462.2 258.2,459.8 264.2,457.4 270.3,455.0 276.3,452.6 282.4,450.1 288.4,447.6 294.5,445.2 300.5,442.7 306.6,440.2 312.6,437.7 318.7,435.1 324.7,432.6 330.8,430.1 336.8,427.5 342.9,425.0 348.9,422.5 355.0,419.9 361.1,417.4 367.1,414.9 373.2,412.4 379.2,409.8 385.3,407.3 391.3,404.9 397.4,402.4 403.4,399.9 409.5,397.5 415.5,395.0 421.6,392.6 427.6,390.2 433.7,387.8 439.7,385.5 445.8,383.1 451.8,380.8 457.9,378.6 463.9,376.3 470.0,374.1 476.0,371.9 482.1,369.8 488.1,367.6 494.2,365.5 500.2,363.5 506.3,361.5 512.3,359.5 518.4,357.6" fill="none" stroke="#2db814" stroke-width="1.8" stroke-dasharray="4.2 2.4 1.1 2.2" stroke-dashoffset="0" stroke-linejoin="round"/>
<polyline points="40.3,432.5 46.5,427.1 52.7,433.1 58.9,440.2 65.1,454.2 71.3,453.2 77.5,452.6 83.7,458.8 89.9,454.0 96.2,448.2 102.4,450.1 108.6,449.2 114.8,445.9 121.0,439.8 127.2,460.9 133.4,446.3 139.6,444.4 145.8,451.7 152.0,455.5 158.2,457.4 164.4,451.3 170.6,456.5 176.8,463.2 183.0,459.7 189.2,457.4 195.4,448.8 201.7,457.4 207.9,442.6 214.1,449.8 220.3,461.8 226.5,457.0 232.7,457.6 238.9,456.7 245.1,457.1 251.3,454.2 257.5,456.7 263.7,450.2 269.9,457.6 276.1,439.3 282.3,450.5 288.5,452.5 294.7,448.4 301.0,450.7 307.2,451.1 313.4,452.5 319.6,451.9 325.8,463.0 332.0,448.4 338.2,450.7 344.4,436.1 350.6,437.8 356.8,436.8 363.0,441.7 369.2,435.3 375.4,439.9 381.6,437.9 387.8,439.3 394.0,436.1 400.2,441.0 406.5,450.0 412.7,449.4 418.9,440.1 425.1,440.8 431.3,442.8 437.5,447.7 443.7,446.8 449.9,446.4 456.1,437.3 462.3,430.7 468.5,440.9 474.7,442.7 480.9,442.7 487.1,446.4 493.3,433.7 499.5,437.3 505.8,438.7 512.0,442.7 518.2,441.4" fill="none" stroke="#ff0d0d" stroke-width="1.4" stroke-linejoin="round"/>
<circle cx="40.3" cy="432.5" r="2.55" fill="#ff0d0d"/>
<circle cx="46.5" cy="427.1" r="2.55" fill="#ff0d0d"/>
<circle cx="52.7" cy="433.1" r="2.55" fill="#ff0d0d"/>
<circle cx="58.9" cy="440.2" r="2.55" fill="#ff0d0d"/>
<circle cx="65.1" cy="454.2" r="2.55" fill="#ff0d0d"/>
<circle cx="71.3" cy="453.2" r="2.55" fill="#ff0d0d"/>
<circle cx="77.5" cy="452.6" r="2.55" fill="#ff0d0d"/>
<circle cx="83.7" cy="458.8" r="2.55" fill="#ff0d0d"/>
<circle cx="89.9" cy="454.0" r="2.55" fill="#ff0d0d"/>
<circle cx="96.2" cy="448.2" r="2.55" fill="#ff0d0d"/>
<circle cx="102.4" cy="450.1" r="2.55" fill="#ff0d0d"/>
<circle cx="108.6" cy="449.2" r="2.55" fill="#ff0d0d"/>
<circle cx="114.8" cy="445.9" r="2.55" fill="#ff0d0d"/>
<circle cx="121.0" cy="439.8" r="2.55" fill="#ff0d0d"/>
<circle cx="127.2" cy="460.9" r="2.55" fill="#ff0d0d"/>
<circle cx="133.4" cy="446.3" r="2.55" fill="#ff0d0d"/>
<circle cx="139.6" cy="444.4" r="2.55" fill="#ff0d0d"/>
<circle cx="145.8" cy="451.7" r="2.55" fill="#ff0d0d"/>
<circle cx="152.0" cy="455.5" r="2.55" fill="#ff0d0d"/>
<circle cx="158.2" cy="457.4" r="2.55" fill="#ff0d0d"/>
<circle cx="164.4" cy="451.3" r="2.55" fill="#ff0d0d"/>
<circle cx="170.6" cy="456.5" r="2.55" fill="#ff0d0d"/>
<circle cx="176.8" cy="463.2" r="2.55" fill="#ff0d0d"/>
<circle cx="183.0" cy="459.7" r="2.55" fill="#ff0d0d"/>
<circle cx="189.2" cy="457.4" r="2.55" fill="#ff0d0d"/>
<circle cx="195.4" cy="448.8" r="2.55" fill="#ff0d0d"/>
<circle cx="201.7" cy="457.4" r="2.55" fill="#ff0d0d"/>
<circle cx="207.9" cy="442.6" r="2.55" fill="#ff0d0d"/>
<circle cx="214.1" cy="449.8" r="2.55" fill="#ff0d0d"/>
<circle cx="220.3" cy="461.8" r="2.55" fill="#ff0d0d"/>
<circle cx="226.5" cy="457.0" r="2.55" fill="#ff0d0d"/>
<circle cx="232.7" cy="457.6" r="2.55" fill="#ff0d0d"/>
<circle cx="238.9" cy="456.7" r="2.55" fill="#ff0d0d"/>
<circle cx="245.1" cy="457.1" r="2.55" fill="#ff0d0d"/>
<circle cx="251.3" cy="454.2" r="2.55" fill="#ff0d0d"/>
<circle cx="257.5" cy="456.7" r="2.55" fill="#ff0d0d"/>
<circle cx="263.7" cy="450.2" r="2.55" fill="#ff0d0d"/>
<circle cx="269.9" cy="457.6" r="2.55" fill="#ff0d0d"/>
<circle cx="276.1" cy="439.3" r="2.55" fill="#ff0d0d"/>
<circle cx="282.3" cy="450.5" r="2.55" fill="#ff0d0d"/>
<circle cx="288.5" cy="452.5" r="2.55" fill="#ff0d0d"/>
<circle cx="294.7" cy="448.4" r="2.55" fill="#ff0d0d"/>
<circle cx="301.0" cy="450.7" r="2.55" fill="#ff0d0d"/>
<circle cx="307.2" cy="451.1" r="2.55" fill="#ff0d0d"/>
<circle cx="313.4" cy="452.5" r="2.55" fill="#ff0d0d"/>
<circle cx="319.6" cy="451.9" r="2.55" fill="#ff0d0d"/>
<circle cx="325.8" cy="463.0" r="2.55" fill="#ff0d0d"/>
<circle cx="332.0" cy="448.4" r="2.55" fill="#ff0d0d"/>
<circle cx="338.2" cy="450.7" r="2.55" fill="#ff0d0d"/>
<circle cx="344.4" cy="436.1" r="2.55" fill="#ff0d0d"/>
<circle cx="350.6" cy="437.8" r="2.55" fill="#ff0d0d"/>
<circle cx="356.8" cy="436.8" r="2.55" fill="#ff0d0d"/>
<circle cx="363.0" cy="441.7" r="2.55" fill="#ff0d0d"/>
<circle cx="369.2" cy="435.3" r="2.55" fill="#ff0d0d"/>
<circle cx="375.4" cy="439.9" r="2.55" fill="#ff0d0d"/>
<circle cx="381.6" cy="437.9" r="2.55" fill="#ff0d0d"/>
<circle cx="387.8" cy="439.3" r="2.55" fill="#ff0d0d"/>
<circle cx="394.0" cy="436.1" r="2.55" fill="#ff0d0d"/>
<circle cx="400.2" cy="441.0" r="2.55" fill="#ff0d0d"/>
<circle cx="406.5" cy="450.0" r="2.55" fill="#ff0d0d"/>
<circle cx="412.7" cy="449.4" r="2.55" fill="#ff0d0d"/>
<circle cx="418.9" cy="440.1" r="2.55" fill="#ff0d0d"/>
<circle cx="425.1" cy="440.8" r="2.55" fill="#ff0d0d"/>
<circle cx="431.3" cy="442.8" r="2.55" fill="#ff0d0d"/>
<circle cx="437.5" cy="447.7" r="2.55" fill="#ff0d0d"/>
<circle cx="443.7" cy="446.8" r="2.55" fill="#ff0d0d"/>
<circle cx="449.9" cy="446.4" r="2.55" fill="#ff0d0d"/>
<circle cx="456.1" cy="437.3" r="2.55" fill="#ff0d0d"/>
<circle cx="462.3" cy="430.7" r="2.55" fill="#ff0d0d"/>
<circle cx="468.5" cy="440.9" r="2.55" fill="#ff0d0d"/>
<circle cx="474.7" cy="442.7" r="2.55" fill="#ff0d0d"/>
<circle cx="480.9" cy="442.7" r="2.55" fill="#ff0d0d"/>
<circle cx="487.1" cy="446.4" r="2.55" fill="#ff0d0d"/>
<circle cx="493.3" cy="433.7" r="2.55" fill="#ff0d0d"/>
<circle cx="499.5" cy="437.3" r="2.55" fill="#ff0d0d"/>
<circle cx="505.8" cy="438.7" r="2.55" fill="#ff0d0d"/>
<circle cx="512.0" cy="442.7" r="2.55" fill="#ff0d0d"/>
<circle cx="518.2" cy="441.4" r="2.55" fill="#ff0d0d"/>
<polyline points="40.3,436.2 46.4,437.9 52.4,439.6 58.5,441.1 64.5,442.6 70.6,443.9 76.6,445.2 82.7,446.4 88.7,447.5 94.8,448.5 100.8,449.5 106.9,450.3 112.9,451.1 119.0,451.9 125.0,452.5 131.1,453.1 137.1,453.6 143.2,454.1 149.2,454.4 155.3,454.8 161.3,455.0 167.4,455.3 173.4,455.4 179.5,455.5 185.5,455.6 191.6,455.6 197.6,455.6 203.7,455.5 209.8,455.3 215.8,455.2 221.9,455.0 227.9,454.7 234.0,454.5 240.0,454.2 246.1,453.8 252.1,453.5 258.2,453.1 264.2,452.7 270.3,452.3 276.3,451.8 282.4,451.3 288.4,450.9 294.5,450.4 300.5,449.9 306.6,449.3 312.6,448.8 318.7,448.3 324.7,447.8 330.8,447.2 336.8,446.7 342.9,446.2 348.9,445.6 355.0,445.1 361.1,444.6 367.1,444.1 373.2,443.6 379.2,443.2 385.3,442.7 391.3,442.3 397.4,441.9 403.4,441.5 409.5,441.2 415.5,440.8 421.6,440.5 427.6,440.3 433.7,440.0 439.7,439.8 445.8,439.7 451.8,439.6 457.9,439.5 463.9,439.4 470.0,439.5 476.0,439.5 482.1,439.6 488.1,439.8 494.2,440.0 500.2,440.3 506.3,440.6 512.3,441.0 518.4,441.5" fill="none" stroke="#ff0d0d" stroke-width="1.8" stroke-dasharray="4.2 2.4 1.1 2.2" stroke-dashoffset="0" stroke-linejoin="round"/>
</g>
<g clip-path="url(#cr)">
<circle cx="40.3" cy="598.0" r="2.55" fill="#1430ff"/>
<circle cx="46.5" cy="602.4" r="2.55" fill="#1430ff"/>
<circle cx="52.7" cy="605.3" r="2.55" fill="#1430ff"/>
<circle cx="58.9" cy="608.2" r="2.55" fill="#1430ff"/>
<circle cx="65.1" cy="606.8" r="2.55" fill="#1430ff"/>
<circle cx="71.3" cy="617.2" r="2.55" fill="#1430ff"/>
<circle cx="77.5" cy="608.6" r="2.55" fill="#1430ff"/>
<circle cx="83.7" cy="619.7" r="2.55" fill="#1430ff"/>
<circle cx="89.9" cy="617.8" r="2.55" fill="#1430ff"/>
<circle cx="96.2" cy="616.4" r="2.55" fill="#1430ff"/>
<circle cx="102.4" cy="604.7" r="2.55" fill="#1430ff"/>
<circle cx="108.6" cy="593.8" r="2.55" fill="#1430ff"/>
<circle cx="114.8" cy="584.2" r="2.55" fill="#1430ff"/>
<circle cx="121.0" cy="604.7" r="2.55" fill="#1430ff"/>
<circle cx="127.2" cy="603.4" r="2.55" fill="#1430ff"/>
<circle cx="133.4" cy="605.9" r="2.55" fill="#1430ff"/>
<circle cx="139.6" cy="600.1" r="2.55" fill="#1430ff"/>
<circle cx="145.8" cy="610.7" r="2.55" fill="#1430ff"/>
<circle cx="152.0" cy="612.6" r="2.55" fill="#1430ff"/>
<circle cx="158.2" cy="588.0" r="2.55" fill="#1430ff"/>
<circle cx="164.4" cy="617.8" r="2.55" fill="#1430ff"/>
<circle cx="170.6" cy="615.9" r="2.55" fill="#1430ff"/>
<circle cx="176.8" cy="626.8" r="2.55" fill="#1430ff"/>
<circle cx="183.0" cy="615.5" r="2.55" fill="#1430ff"/>
<circle cx="189.2" cy="622.2" r="2.55" fill="#1430ff"/>
<circle cx="195.4" cy="604.0" r="2.55" fill="#1430ff"/>
<circle cx="201.7" cy="606.7" r="2.55" fill="#1430ff"/>
<circle cx="207.9" cy="598.0" r="2.55" fill="#1430ff"/>
<circle cx="214.1" cy="597.6" r="2.55" fill="#1430ff"/>
<circle cx="220.3" cy="605.3" r="2.55" fill="#1430ff"/>
<circle cx="226.5" cy="614.5" r="2.55" fill="#1430ff"/>
<circle cx="232.7" cy="618.4" r="2.55" fill="#1430ff"/>
<circle cx="238.9" cy="622.6" r="2.55" fill="#1430ff"/>
<circle cx="245.1" cy="588.0" r="2.55" fill="#1430ff"/>
<circle cx="251.3" cy="594.5" r="2.55" fill="#1430ff"/>
<circle cx="257.5" cy="598.6" r="2.55" fill="#1430ff"/>
<circle cx="263.7" cy="599.2" r="2.55" fill="#1430ff"/>
<circle cx="269.9" cy="614.9" r="2.55" fill="#1430ff"/>
<circle cx="276.1" cy="604.9" r="2.55" fill="#1430ff"/>
<circle cx="282.3" cy="612.6" r="2.55" fill="#1430ff"/>
<circle cx="288.5" cy="611.1" r="2.55" fill="#1430ff"/>
<circle cx="294.7" cy="608.2" r="2.55" fill="#1430ff"/>
<circle cx="301.0" cy="590.0" r="2.55" fill="#1430ff"/>
<circle cx="307.2" cy="606.8" r="2.55" fill="#1430ff"/>
<circle cx="313.4" cy="613.9" r="2.55" fill="#1430ff"/>
<circle cx="319.6" cy="614.5" r="2.55" fill="#1430ff"/>
<circle cx="325.8" cy="614.9" r="2.55" fill="#1430ff"/>
<circle cx="332.0" cy="622.2" r="2.55" fill="#1430ff"/>
<circle cx="338.2" cy="602.8" r="2.55" fill="#1430ff"/>
<circle cx="344.4" cy="604.9" r="2.55" fill="#1430ff"/>
<circle cx="350.6" cy="604.9" r="2.55" fill="#1430ff"/>
<circle cx="356.8" cy="595.7" r="2.55" fill="#1430ff"/>
<circle cx="363.0" cy="595.3" r="2.55" fill="#1430ff"/>
<circle cx="369.2" cy="582.8" r="2.55" fill="#1430ff"/>
<circle cx="375.4" cy="578.0" r="2.55" fill="#1430ff"/>
<circle cx="381.6" cy="606.7" r="2.55" fill="#1430ff"/>
<circle cx="387.8" cy="617.4" r="2.55" fill="#1430ff"/>
<circle cx="394.0" cy="604.7" r="2.55" fill="#1430ff"/>
<circle cx="400.2" cy="613.0" r="2.55" fill="#1430ff"/>
<circle cx="406.5" cy="592.4" r="2.55" fill="#1430ff"/>
<circle cx="412.7" cy="612.1" r="2.55" fill="#1430ff"/>
<circle cx="418.9" cy="623.9" r="2.55" fill="#1430ff"/>
<circle cx="425.1" cy="633.2" r="2.55" fill="#1430ff"/>
<circle cx="431.3" cy="621.1" r="2.55" fill="#1430ff"/>
<circle cx="437.5" cy="622.7" r="2.55" fill="#1430ff"/>
<circle cx="443.7" cy="612.9" r="2.55" fill="#1430ff"/>
<circle cx="449.9" cy="597.0" r="2.55" fill="#1430ff"/>
<circle cx="456.1" cy="612.4" r="2.55" fill="#1430ff"/>
<circle cx="462.3" cy="599.0" r="2.55" fill="#1430ff"/>
<circle cx="468.5" cy="604.3" r="2.55" fill="#1430ff"/>
<circle cx="474.7" cy="607.2" r="2.55" fill="#1430ff"/>
<circle cx="480.9" cy="604.9" r="2.55" fill="#1430ff"/>
<circle cx="487.1" cy="607.2" r="2.55" fill="#1430ff"/>
<circle cx="493.3" cy="609.1" r="2.55" fill="#1430ff"/>
<circle cx="499.5" cy="623.0" r="2.55" fill="#1430ff"/>
<circle cx="505.8" cy="595.7" r="2.55" fill="#1430ff"/>
<circle cx="512.0" cy="608.2" r="2.55" fill="#1430ff"/>
<circle cx="518.2" cy="590.9" r="2.55" fill="#1430ff"/>
<circle cx="40.3" cy="612.0" r="2.55" fill="#2db814"/>
<circle cx="46.5" cy="599.2" r="2.55" fill="#2db814"/>
<circle cx="52.7" cy="600.1" r="2.55" fill="#2db814"/>
<circle cx="58.9" cy="607.2" r="2.55" fill="#2db814"/>
<circle cx="65.1" cy="606.8" r="2.55" fill="#2db814"/>
<circle cx="71.3" cy="611.6" r="2.55" fill="#2db814"/>
<circle cx="77.5" cy="617.8" r="2.55" fill="#2db814"/>
<circle cx="83.7" cy="615.9" r="2.55" fill="#2db814"/>
<circle cx="89.9" cy="613.0" r="2.55" fill="#2db814"/>
<circle cx="96.2" cy="603.0" r="2.55" fill="#2db814"/>
<circle cx="102.4" cy="605.9" r="2.55" fill="#2db814"/>
<circle cx="108.6" cy="595.3" r="2.55" fill="#2db814"/>
<circle cx="114.8" cy="605.3" r="2.55" fill="#2db814"/>
<circle cx="121.0" cy="607.2" r="2.55" fill="#2db814"/>
<circle cx="127.2" cy="597.2" r="2.55" fill="#2db814"/>
<circle cx="133.4" cy="603.0" r="2.55" fill="#2db814"/>
<circle cx="139.6" cy="602.0" r="2.55" fill="#2db814"/>
<circle cx="145.8" cy="605.9" r="2.55" fill="#2db814"/>
<circle cx="152.0" cy="595.7" r="2.55" fill="#2db814"/>
<circle cx="158.2" cy="603.4" r="2.55" fill="#2db814"/>
<circle cx="164.4" cy="610.1" r="2.55" fill="#2db814"/>
<circle cx="170.6" cy="617.8" r="2.55" fill="#2db814"/>
<circle cx="176.8" cy="624.5" r="2.55" fill="#2db814"/>
<circle cx="183.0" cy="615.5" r="2.55" fill="#2db814"/>
<circle cx="189.2" cy="607.2" r="2.55" fill="#2db814"/>
<circle cx="195.4" cy="606.3" r="2.55" fill="#2db814"/>
<circle cx="201.7" cy="613.6" r="2.55" fill="#2db814"/>
<circle cx="207.9" cy="609.7" r="2.55" fill="#2db814"/>
<circle cx="214.1" cy="623.5" r="2.55" fill="#2db814"/>
<circle cx="220.3" cy="602.8" r="2.55" fill="#2db814"/>
<circle cx="226.5" cy="602.0" r="2.55" fill="#2db814"/>
<circle cx="232.7" cy="610.7" r="2.55" fill="#2db814"/>
<circle cx="238.9" cy="616.8" r="2.55" fill="#2db814"/>
<circle cx="245.1" cy="607.6" r="2.55" fill="#2db814"/>
<circle cx="251.3" cy="595.3" r="2.55" fill="#2db814"/>
<circle cx="257.5" cy="600.9" r="2.55" fill="#2db814"/>
<circle cx="263.7" cy="596.3" r="2.55" fill="#2db814"/>
<circle cx="269.9" cy="606.3" r="2.55" fill="#2db814"/>
<circle cx="276.1" cy="606.3" r="2.55" fill="#2db814"/>
<circle cx="282.3" cy="604.3" r="2.55" fill="#2db814"/>
<circle cx="288.5" cy="605.3" r="2.55" fill="#2db814"/>
<circle cx="294.7" cy="609.1" r="2.55" fill="#2db814"/>
<circle cx="301.0" cy="600.5" r="2.55" fill="#2db814"/>
<circle cx="307.2" cy="600.1" r="2.55" fill="#2db814"/>
<circle cx="313.4" cy="617.8" r="2.55" fill="#2db814"/>
<circle cx="319.6" cy="609.7" r="2.55" fill="#2db814"/>
<circle cx="325.8" cy="618.7" r="2.55" fill="#2db814"/>
<circle cx="332.0" cy="617.2" r="2.55" fill="#2db814"/>
<circle cx="338.2" cy="625.5" r="2.55" fill="#2db814"/>
<circle cx="344.4" cy="605.9" r="2.55" fill="#2db814"/>
<circle cx="350.6" cy="583.2" r="2.55" fill="#2db814"/>
<circle cx="356.8" cy="601.5" r="2.55" fill="#2db814"/>
<circle cx="363.0" cy="591.3" r="2.55" fill="#2db814"/>
<circle cx="369.2" cy="589.0" r="2.55" fill="#2db814"/>
<circle cx="375.4" cy="594.2" r="2.55" fill="#2db814"/>
<circle cx="381.6" cy="605.3" r="2.55" fill="#2db814"/>
<circle cx="387.8" cy="597.6" r="2.55" fill="#2db814"/>
<circle cx="394.0" cy="603.4" r="2.55" fill="#2db814"/>
<circle cx="400.2" cy="598.0" r="2.55" fill="#2db814"/>
<circle cx="406.5" cy="623.2" r="2.55" fill="#2db814"/>
<circle cx="412.7" cy="618.0" r="2.55" fill="#2db814"/>
<circle cx="418.9" cy="612.4" r="2.55" fill="#2db814"/>
<circle cx="425.1" cy="620.1" r="2.55" fill="#2db814"/>
<circle cx="431.3" cy="611.9" r="2.55" fill="#2db814"/>
<circle cx="437.5" cy="621.8" r="2.55" fill="#2db814"/>
<circle cx="443.7" cy="604.7" r="2.55" fill="#2db814"/>
<circle cx="449.9" cy="611.0" r="2.55" fill="#2db814"/>
<circle cx="456.1" cy="616.4" r="2.55" fill="#2db814"/>
<circle cx="462.3" cy="597.0" r="2.55" fill="#2db814"/>
<circle cx="468.5" cy="613.4" r="2.55" fill="#2db814"/>
<circle cx="474.7" cy="610.5" r="2.55" fill="#2db814"/>
<circle cx="480.9" cy="614.5" r="2.55" fill="#2db814"/>
<circle cx="487.1" cy="609.7" r="2.55" fill="#2db814"/>
<circle cx="493.3" cy="613.4" r="2.55" fill="#2db814"/>
<circle cx="499.5" cy="604.9" r="2.55" fill="#2db814"/>
<circle cx="505.8" cy="593.4" r="2.55" fill="#2db814"/>
<circle cx="512.0" cy="614.5" r="2.55" fill="#2db814"/>
<circle cx="518.2" cy="589.6" r="2.55" fill="#2db814"/>
<circle cx="40.3" cy="601.5" r="2.55" fill="#ff0d0d"/>
<circle cx="46.5" cy="593.4" r="2.55" fill="#ff0d0d"/>
<circle cx="52.7" cy="599.2" r="2.55" fill="#ff0d0d"/>
<circle cx="58.9" cy="605.7" r="2.55" fill="#ff0d0d"/>
<circle cx="65.1" cy="621.0" r="2.55" fill="#ff0d0d"/>
<circle cx="71.3" cy="617.8" r="2.55" fill="#ff0d0d"/>
<circle cx="77.5" cy="615.9" r="2.55" fill="#ff0d0d"/>
<circle cx="83.7" cy="622.0" r="2.55" fill="#ff0d0d"/>
<circle cx="89.9" cy="614.9" r="2.55" fill="#ff0d0d"/>
<circle cx="96.2" cy="605.9" r="2.55" fill="#ff0d0d"/>
<circle cx="102.4" cy="607.2" r="2.55" fill="#ff0d0d"/>
<circle cx="108.6" cy="604.9" r="2.55" fill="#ff0d0d"/>
<circle cx="114.8" cy="600.5" r="2.55" fill="#ff0d0d"/>
<circle cx="121.0" cy="591.9" r="2.55" fill="#ff0d0d"/>
<circle cx="127.2" cy="617.2" r="2.55" fill="#ff0d0d"/>
<circle cx="133.4" cy="598.6" r="2.55" fill="#ff0d0d"/>
<circle cx="139.6" cy="595.3" r="2.55" fill="#ff0d0d"/>
<circle cx="145.8" cy="604.0" r="2.55" fill="#ff0d0d"/>
<circle cx="152.0" cy="608.6" r="2.55" fill="#ff0d0d"/>
<circle cx="158.2" cy="610.7" r="2.55" fill="#ff0d0d"/>
<circle cx="164.4" cy="602.0" r="2.55" fill="#ff0d0d"/>
<circle cx="170.6" cy="608.8" r="2.55" fill="#ff0d0d"/>
<circle cx="176.8" cy="616.4" r="2.55" fill="#ff0d0d"/>
<circle cx="183.0" cy="612.0" r="2.55" fill="#ff0d0d"/>
<circle cx="189.2" cy="609.5" r="2.55" fill="#ff0d0d"/>
<circle cx="195.4" cy="599.0" r="2.55" fill="#ff0d0d"/>
<circle cx="201.7" cy="610.1" r="2.55" fill="#ff0d0d"/>
<circle cx="207.9" cy="590.5" r="2.55" fill="#ff0d0d"/>
<circle cx="214.1" cy="600.5" r="2.55" fill="#ff0d0d"/>
<circle cx="220.3" cy="616.2" r="2.55" fill="#ff0d0d"/>
<circle cx="226.5" cy="610.7" r="2.55" fill="#ff0d0d"/>
<circle cx="232.7" cy="610.7" r="2.55" fill="#ff0d0d"/>
<circle cx="238.9" cy="609.7" r="2.55" fill="#ff0d0d"/>
<circle cx="245.1" cy="611.1" r="2.55" fill="#ff0d0d"/>
<circle cx="251.3" cy="608.2" r="2.55" fill="#ff0d0d"/>
<circle cx="257.5" cy="611.6" r="2.55" fill="#ff0d0d"/>
<circle cx="263.7" cy="603.0" r="2.55" fill="#ff0d0d"/>
<circle cx="269.9" cy="613.9" r="2.55" fill="#ff0d0d"/>
<circle cx="276.1" cy="591.5" r="2.55" fill="#ff0d0d"/>
<circle cx="282.3" cy="607.2" r="2.55" fill="#ff0d0d"/>
<circle cx="288.5" cy="609.7" r="2.55" fill="#ff0d0d"/>
<circle cx="294.7" cy="604.7" r="2.55" fill="#ff0d0d"/>
<circle cx="301.0" cy="608.2" r="2.55" fill="#ff0d0d"/>
<circle cx="307.2" cy="609.1" r="2.55" fill="#ff0d0d"/>
<circle cx="313.4" cy="611.1" r="2.55" fill="#ff0d0d"/>
<circle cx="319.6" cy="611.6" r="2.55" fill="#ff0d0d"/>
<circle cx="325.8" cy="626.4" r="2.55" fill="#ff0d0d"/>
<circle cx="332.0" cy="608.8" r="2.55" fill="#ff0d0d"/>
<circle cx="338.2" cy="612.0" r="2.55" fill="#ff0d0d"/>
<circle cx="344.4" cy="594.4" r="2.55" fill="#ff0d0d"/>
<circle cx="350.6" cy="598.0" r="2.55" fill="#ff0d0d"/>
<circle cx="356.8" cy="597.0" r="2.55" fill="#ff0d0d"/>
<circle cx="363.0" cy="604.3" r="2.55" fill="#ff0d0d"/>
<circle cx="369.2" cy="596.3" r="2.55" fill="#ff0d0d"/>
<circle cx="375.4" cy="603.0" r="2.55" fill="#ff0d0d"/>
<circle cx="381.6" cy="600.5" r="2.55" fill="#ff0d0d"/>
<circle cx="387.8" cy="602.8" r="2.55" fill="#ff0d0d"/>
<circle cx="394.0" cy="600.1" r="2.55" fill="#ff0d0d"/>
<circle cx="400.2" cy="606.3" r="2.55" fill="#ff0d0d"/>
<circle cx="406.5" cy="617.6" r="2.55" fill="#ff0d0d"/>
<circle cx="412.7" cy="617.0" r="2.55" fill="#ff0d0d"/>
<circle cx="418.9" cy="606.4" r="2.55" fill="#ff0d0d"/>
<circle cx="425.1" cy="607.7" r="2.55" fill="#ff0d0d"/>
<circle cx="431.3" cy="610.7" r="2.55" fill="#ff0d0d"/>
<circle cx="437.5" cy="617.0" r="2.55" fill="#ff0d0d"/>
<circle cx="443.7" cy="615.4" r="2.55" fill="#ff0d0d"/>
<circle cx="449.9" cy="615.3" r="2.55" fill="#ff0d0d"/>
<circle cx="456.1" cy="604.0" r="2.55" fill="#ff0d0d"/>
<circle cx="462.3" cy="595.3" r="2.55" fill="#ff0d0d"/>
<circle cx="468.5" cy="608.8" r="2.55" fill="#ff0d0d"/>
<circle cx="474.7" cy="610.5" r="2.55" fill="#ff0d0d"/>
<circle cx="480.9" cy="610.7" r="2.55" fill="#ff0d0d"/>
<circle cx="487.1" cy="614.5" r="2.55" fill="#ff0d0d"/>
<circle cx="493.3" cy="599.2" r="2.55" fill="#ff0d0d"/>
<circle cx="499.5" cy="603.0" r="2.55" fill="#ff0d0d"/>
<circle cx="505.8" cy="604.0" r="2.55" fill="#ff0d0d"/>
<circle cx="512.0" cy="608.2" r="2.55" fill="#ff0d0d"/>
<circle cx="518.2" cy="604.9" r="2.55" fill="#ff0d0d"/>
</g>
<line x1="59.80" y1="354.60" x2="126.80" y2="354.60" stroke="#111" stroke-width="1.6" stroke-dasharray="4.2 2.4 1.1 2.2"/>
<text transform="translate(137.40,358.00) scale(0.81,1)" text-anchor="start" font-size="13" >Trend fit, fiber #102</text>
<text x="411.2" y="518.0" font-size="12.5" style="font-weight:normal;font-style:normal;stroke-width:0.25px">σ</text>
<text transform="translate(419.10,520.50) scale(0.9,1)" text-anchor="start" font-size="8.5" >red</text>
<text transform="translate(430.60,518.00) scale(0.81,1)" text-anchor="start" font-size="13" >:</text>
<text transform="translate(436.00,518.00) scale(0.81,1)" text-anchor="start" font-size="13" >2.21 m s</text>
<text transform="translate(477.90,513.50) scale(0.9,1)" text-anchor="start" font-size="8.5" >-1</text>
<text x="404.9" y="530.1" font-size="12.5" style="font-weight:normal;font-style:normal;stroke-width:0.25px">σ</text>
<text transform="translate(412.80,532.60) scale(0.9,1)" text-anchor="start" font-size="8.5" >green</text>
<text transform="translate(431.20,530.10) scale(0.81,1)" text-anchor="start" font-size="13" >:</text>
<text transform="translate(436.40,530.10) scale(0.81,1)" text-anchor="start" font-size="13" >2.63 m s</text>
<text transform="translate(478.30,525.60) scale(0.9,1)" text-anchor="start" font-size="8.5" >-1</text>
<text x="406.4" y="542.8" font-size="12.5" style="font-weight:normal;font-style:normal;stroke-width:0.25px">σ</text>
<text transform="translate(414.30,545.30) scale(0.9,1)" text-anchor="start" font-size="8.5" >blue</text>
<text transform="translate(428.60,542.80) scale(0.81,1)" text-anchor="start" font-size="13" >:</text>
<text transform="translate(434.40,542.80) scale(0.81,1)" text-anchor="start" font-size="13" >3.19 m s</text>
<text transform="translate(476.30,538.30) scale(0.9,1)" text-anchor="start" font-size="8.5" >-1</text>
<circle cx="498.1" cy="514.9" r="3.25" fill="#ff0d0d"/>
<circle cx="498.1" cy="527.8" r="3.25" fill="#2db814"/>
<circle cx="498.1" cy="540.6" r="3.25" fill="#1430ff"/>
</svg>
</body></html>
